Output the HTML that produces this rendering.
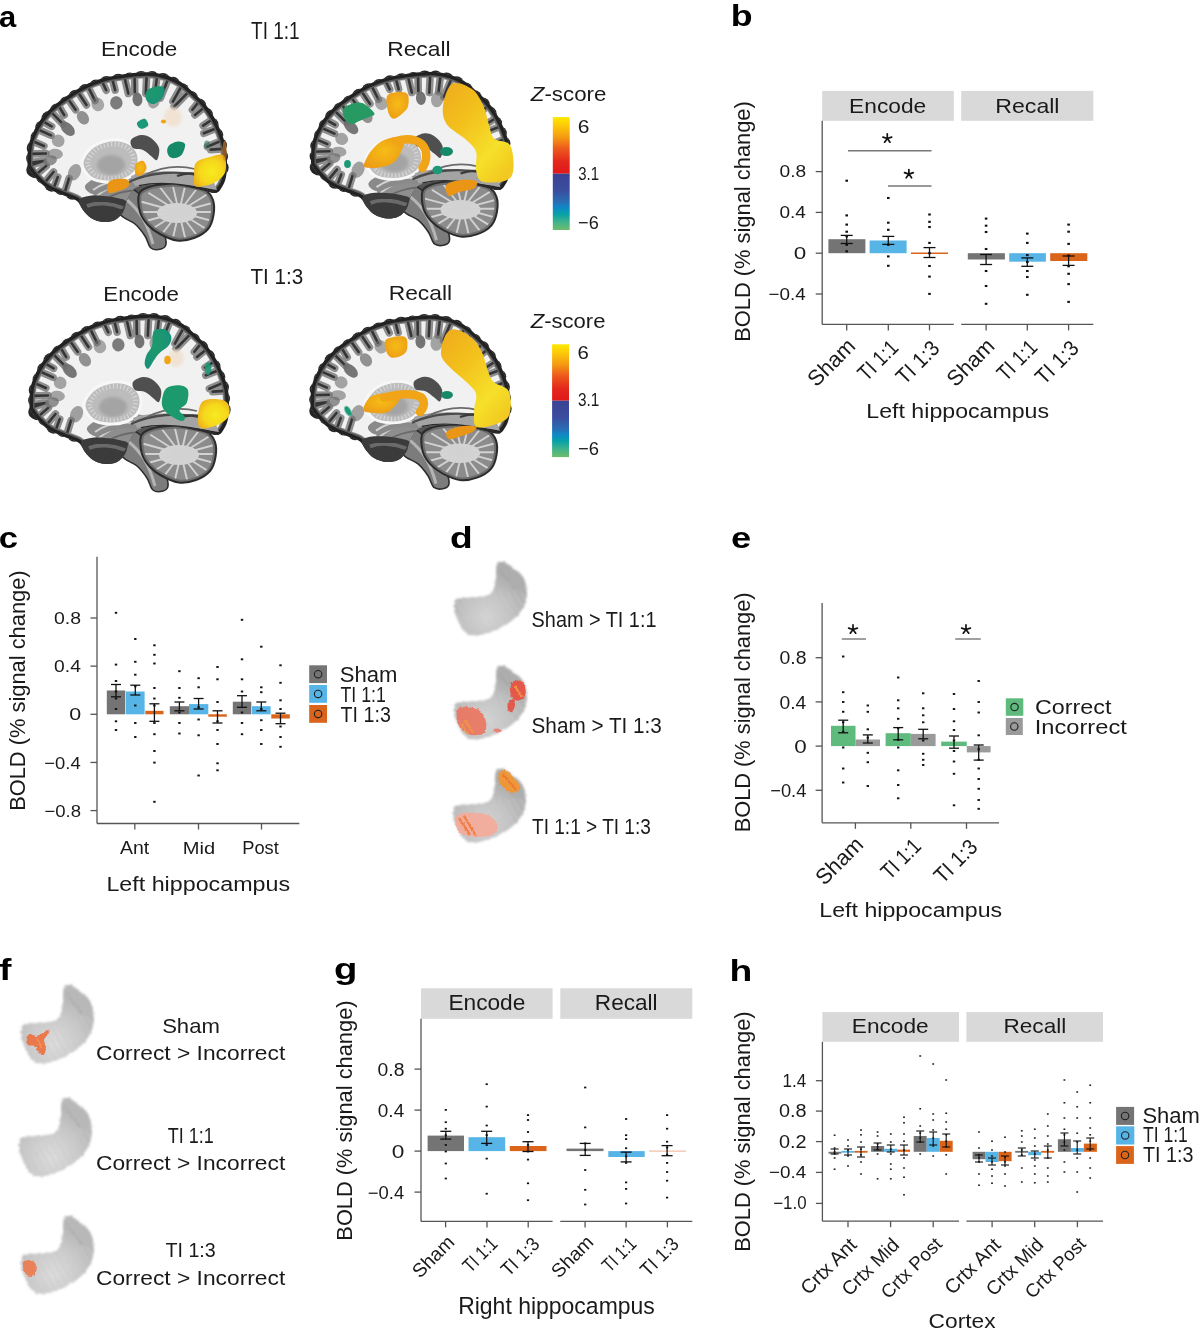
<!DOCTYPE html><html><head><meta charset="utf-8"><style>html,body{margin:0;padding:0;background:#fff}svg{display:block} text{opacity:0.999}</style></head><body>
<svg width="1200" height="1335" viewBox="0 0 1200 1335" font-family="Liberation Sans, sans-serif" fill="#1a1a1a">
<rect width="1200" height="1335" fill="#fff"/>
<text x="-1" y="26.6" font-size="30.38" font-weight="bold" textLength="17.18" lengthAdjust="spacingAndGlyphs" fill="#000" >a</text>
<defs>
<clipPath id="cc"><path d="M0.5,92 C0.42,88.17 0.58,79.17 1.5,74 C2.42,68.83 4.08,65.25 6,61 C7.92,56.75 10,52.67 13,48.5 C16,44.33 19.67,40 24,36 C28.33,32 33.5,28.25 39,24.5 C44.5,20.75 50.92,16.53 57,13.5 C63.08,10.47 69.33,8.1 75.5,6.3 C81.67,4.5 88.25,3.62 94,2.7 C99.75,1.78 104.83,1.17 110,0.8 C115.17,0.43 120,0.03 125,0.5 C130,0.97 135.17,2.02 140,3.6 C144.83,5.18 149.5,7.1 154,10 C158.5,12.9 163,17.33 167,21 C171,24.67 174.67,28 178,32 C181.33,36 184.25,40.17 187,45 C189.75,49.83 192.5,55.83 194.5,61 C196.5,66.17 198.08,71 199,76 C199.92,81 200,86.17 200,91 C200,95.83 199.83,101 199,105 C198.17,109 196.83,112.33 195,115 C193.17,117.67 192.17,120.67 188,121 C183.83,121.33 176.33,118.33 170,117 C163.67,115.67 156.67,113.83 150,113 C143.33,112.17 136,111.83 130,112 C124,112.17 118,113 114,114 C110,115 108.33,115.67 106,118 C103.67,120.33 101.67,124.33 100,128 C98.33,131.67 98,136.67 96,140 C94,143.33 91.33,146.33 88,148 C84.67,149.67 80,150.33 76,150 C72,149.67 67.33,148 64,146 C60.67,144 58.33,140.83 56,138 C53.67,135.17 53,131.33 50,129 C47,126.67 43,126.17 38,124 C33,121.83 25,119.17 20,116 C15,112.83 11,108.17 8,105 C5,101.83 3.25,99.17 2,97 C0.75,94.83 0.58,95.83 0.5,92Z"/></clipPath>
<clipPath id="cbc"><path d="M112,122 C113.5,117.83 117.33,116.67 122,115 C126.67,113.33 133.67,112.33 140,112 C146.33,111.67 153.67,112 160,113 C166.33,114 173.67,115.5 178,118 C182.33,120.5 184.58,123.83 186,128 C187.42,132.17 187.33,138.17 186.5,143 C185.67,147.83 184.25,153.17 181,157 C177.75,160.83 172.17,164.08 167,166 C161.83,167.92 155.67,169.17 150,168.5 C144.33,167.83 137.83,164.58 133,162 C128.17,159.42 124.33,156.67 121,153 C117.67,149.33 114.5,145.17 113,140 C111.5,134.83 110.5,126.17 112,122Z"/></clipPath>
<filter id="bl05" x="-5%" y="-5%" width="110%" height="110%"><feGaussianBlur stdDeviation="0.45"/></filter>
<filter id="bl1" x="-20%" y="-20%" width="140%" height="140%"><feGaussianBlur stdDeviation="0.7"/></filter>
<filter id="bl2" x="-30%" y="-30%" width="160%" height="160%"><feGaussianBlur stdDeviation="1.6"/></filter>
<filter id="bl3" x="-30%" y="-30%" width="160%" height="160%"><feGaussianBlur stdDeviation="2.5"/></filter>
<g id="brain">
<path d="M96,112 L150,108 L185,116 L150,132 L120,132 L100,128 Z" fill="#555"/>
<path d="M90,124 C92.67,120.83 100,117 104,117 C108,117 111.33,120.83 114,124 C116.67,127.17 117.67,131.67 120,136 C122.33,140.33 125.33,146 128,150 C130.67,154 134.17,156.33 136,160 C137.83,163.67 139.33,169.17 139,172 C138.67,174.83 136.5,176.33 134,177 C131.5,177.67 126.67,178.17 124,176 C121.33,173.83 120.67,168 118,164 C115.33,160 111.67,155.17 108,152 C104.33,148.83 99.33,147.67 96,145 C92.67,142.33 89,139.5 88,136 C87,132.5 87.33,127.17 90,124Z" fill="#7c7c7c" stroke="#2e2e2e" stroke-width="1.6"/>
<path d="M100,128 C112,138 120,150 126,172" fill="none" stroke="#b5b5b5" stroke-width="3"/>
<path d="M112,122 C113.5,117.83 117.33,116.67 122,115 C126.67,113.33 133.67,112.33 140,112 C146.33,111.67 153.67,112 160,113 C166.33,114 173.67,115.5 178,118 C182.33,120.5 184.58,123.83 186,128 C187.42,132.17 187.33,138.17 186.5,143 C185.67,147.83 184.25,153.17 181,157 C177.75,160.83 172.17,164.08 167,166 C161.83,167.92 155.67,169.17 150,168.5 C144.33,167.83 137.83,164.58 133,162 C128.17,159.42 124.33,156.67 121,153 C117.67,149.33 114.5,145.17 113,140 C111.5,134.83 110.5,126.17 112,122Z" fill="#8c8c8c"/>
<g clip-path="url(#cbc)">
<ellipse cx="150" cy="141" rx="20" ry="10" fill="#d4d4d4" filter="url(#bl1)"/>
<line x1="152" y1="140" x2="192" y2="140" stroke="#d2d2d2" stroke-width="1.9"/>
<line x1="152" y1="140" x2="189.59" y2="150.26" stroke="#d2d2d2" stroke-width="1.9"/>
<line x1="152" y1="140" x2="182.64" y2="159.28" stroke="#d2d2d2" stroke-width="1.9"/>
<line x1="152" y1="140" x2="172" y2="165.98" stroke="#d2d2d2" stroke-width="1.9"/>
<line x1="152" y1="140" x2="158.95" y2="169.54" stroke="#d2d2d2" stroke-width="1.9"/>
<line x1="152" y1="140" x2="145.05" y2="169.54" stroke="#d2d2d2" stroke-width="1.9"/>
<line x1="152" y1="140" x2="132" y2="165.98" stroke="#d2d2d2" stroke-width="1.9"/>
<line x1="152" y1="140" x2="121.36" y2="159.28" stroke="#d2d2d2" stroke-width="1.9"/>
<line x1="152" y1="140" x2="114.41" y2="150.26" stroke="#d2d2d2" stroke-width="1.9"/>
<line x1="152" y1="140" x2="112" y2="140" stroke="#d2d2d2" stroke-width="1.9"/>
<line x1="152" y1="140" x2="114.41" y2="129.74" stroke="#d2d2d2" stroke-width="1.9"/>
<line x1="152" y1="140" x2="121.36" y2="120.72" stroke="#d2d2d2" stroke-width="1.9"/>
<line x1="152" y1="140" x2="132" y2="114.02" stroke="#d2d2d2" stroke-width="1.9"/>
<line x1="152" y1="140" x2="145.05" y2="110.46" stroke="#d2d2d2" stroke-width="1.9"/>
<line x1="152" y1="140" x2="158.95" y2="110.46" stroke="#d2d2d2" stroke-width="1.9"/>
<line x1="152" y1="140" x2="172" y2="114.02" stroke="#d2d2d2" stroke-width="1.9"/>
<line x1="152" y1="140" x2="182.64" y2="120.72" stroke="#d2d2d2" stroke-width="1.9"/>
<line x1="152" y1="140" x2="189.59" y2="129.74" stroke="#d2d2d2" stroke-width="1.9"/>
<path d="M112,122 C113.5,117.83 117.33,116.67 122,115 C126.67,113.33 133.67,112.33 140,112 C146.33,111.67 153.67,112 160,113 C166.33,114 173.67,115.5 178,118 C182.33,120.5 184.58,123.83 186,128 C187.42,132.17 187.33,138.17 186.5,143 C185.67,147.83 184.25,153.17 181,157 C177.75,160.83 172.17,164.08 167,166 C161.83,167.92 155.67,169.17 150,168.5 C144.33,167.83 137.83,164.58 133,162 C128.17,159.42 124.33,156.67 121,153 C117.67,149.33 114.5,145.17 113,140 C111.5,134.83 110.5,126.17 112,122Z" fill="none" stroke="#6e6e6e" stroke-width="6"/>
</g>
<path d="M112,122 C113.5,117.83 117.33,116.67 122,115 C126.67,113.33 133.67,112.33 140,112 C146.33,111.67 153.67,112 160,113 C166.33,114 173.67,115.5 178,118 C182.33,120.5 184.58,123.83 186,128 C187.42,132.17 187.33,138.17 186.5,143 C185.67,147.83 184.25,153.17 181,157 C177.75,160.83 172.17,164.08 167,166 C161.83,167.92 155.67,169.17 150,168.5 C144.33,167.83 137.83,164.58 133,162 C128.17,159.42 124.33,156.67 121,153 C117.67,149.33 114.5,145.17 113,140 C111.5,134.83 110.5,126.17 112,122Z" fill="none" stroke="#2c2c2c" stroke-width="2"/>
<g fill="#262626" filter="url(#bl05)"><circle cx="6.6" cy="97.9" r="7.32"/><circle cx="6.38" cy="86.42" r="7.25"/><circle cx="6.69" cy="75.88" r="7"/><circle cx="10.49" cy="65.28" r="6.9"/><circle cx="15.25" cy="55.45" r="7"/><circle cx="21.92" cy="46.48" r="7.46"/><circle cx="29.89" cy="38.6" r="7.01"/><circle cx="39.19" cy="31.59" r="7.02"/><circle cx="48.81" cy="25.03" r="7.32"/><circle cx="58.5" cy="19.23" r="7.2"/><circle cx="68.91" cy="14.64" r="7.04"/><circle cx="79.65" cy="11.22" r="7.32"/><circle cx="91.29" cy="9.17" r="7.45"/><circle cx="102.76" cy="7.41" r="6.9"/><circle cx="114.22" cy="6.29" r="7.38"/><circle cx="125.07" cy="6.25" r="7.15"/><circle cx="135.9" cy="8.34" r="7.39"/><circle cx="146.04" cy="11.93" r="7.12"/><circle cx="155.13" cy="18.2" r="6.9"/><circle cx="163.91" cy="26.16" r="7.15"/><circle cx="171.96" cy="33.88" r="7.41"/><circle cx="178.8" cy="42.77" r="7.26"/><circle cx="184.42" cy="52.64" r="7.14"/><circle cx="189.05" cy="63.11" r="7.25"/><circle cx="192.68" cy="73.39" r="7.27"/><circle cx="193.99" cy="84.56" r="7.04"/><circle cx="194.31" cy="95.75" r="7.39"/><circle cx="45.36" cy="120.61" r="7.16"/><circle cx="34.27" cy="116.16" r="6.92"/><circle cx="24.58" cy="112.42" r="7.24"/><circle cx="16.14" cy="104.92" r="6.91"/><circle cx="8.15" cy="99" r="7.24"/></g>
<g clip-path="url(#cc)">
<path d="M0.5,92 C0.42,88.17 0.58,79.17 1.5,74 C2.42,68.83 4.08,65.25 6,61 C7.92,56.75 10,52.67 13,48.5 C16,44.33 19.67,40 24,36 C28.33,32 33.5,28.25 39,24.5 C44.5,20.75 50.92,16.53 57,13.5 C63.08,10.47 69.33,8.1 75.5,6.3 C81.67,4.5 88.25,3.62 94,2.7 C99.75,1.78 104.83,1.17 110,0.8 C115.17,0.43 120,0.03 125,0.5 C130,0.97 135.17,2.02 140,3.6 C144.83,5.18 149.5,7.1 154,10 C158.5,12.9 163,17.33 167,21 C171,24.67 174.67,28 178,32 C181.33,36 184.25,40.17 187,45 C189.75,49.83 192.5,55.83 194.5,61 C196.5,66.17 198.08,71 199,76 C199.92,81 200,86.17 200,91 C200,95.83 199.83,101 199,105 C198.17,109 196.83,112.33 195,115 C193.17,117.67 192.17,120.67 188,121 C183.83,121.33 176.33,118.33 170,117 C163.67,115.67 156.67,113.83 150,113 C143.33,112.17 136,111.83 130,112 C124,112.17 118,113 114,114 C110,115 108.33,115.67 106,118 C103.67,120.33 101.67,124.33 100,128 C98.33,131.67 98,136.67 96,140 C94,143.33 91.33,146.33 88,148 C84.67,149.67 80,150.33 76,150 C72,149.67 67.33,148 64,146 C60.67,144 58.33,140.83 56,138 C53.67,135.17 53,131.33 50,129 C47,126.67 43,126.17 38,124 C33,121.83 25,119.17 20,116 C15,112.83 11,108.17 8,105 C5,101.83 3.25,99.17 2,97 C0.75,94.83 0.58,95.83 0.5,92Z" fill="#f1f1f1"/>
<g filter="url(#bl05)">
<path d="M0.5,92 C0.42,88.17 0.58,79.17 1.5,74 C2.42,68.83 4.08,65.25 6,61 C7.92,56.75 10,52.67 13,48.5 C16,44.33 19.67,40 24,36 C28.33,32 33.5,28.25 39,24.5 C44.5,20.75 50.92,16.53 57,13.5 C63.08,10.47 69.33,8.1 75.5,6.3 C81.67,4.5 88.25,3.62 94,2.7 C99.75,1.78 104.83,1.17 110,0.8 C115.17,0.43 120,0.03 125,0.5 C130,0.97 135.17,2.02 140,3.6 C144.83,5.18 149.5,7.1 154,10 C158.5,12.9 163,17.33 167,21 C171,24.67 174.67,28 178,32 C181.33,36 184.25,40.17 187,45 C189.75,49.83 192.5,55.83 194.5,61 C196.5,66.17 198.08,71 199,76 C199.92,81 200,86.17 200,91 C200,95.83 199.83,101 199,105 C198.17,109 196.83,112.33 195,115 C193.17,117.67 192.17,120.67 188,121 C183.83,121.33 176.33,118.33 170,117 C163.67,115.67 156.67,113.83 150,113 C143.33,112.17 136,111.83 130,112 C124,112.17 118,113 114,114 C110,115 108.33,115.67 106,118 C103.67,120.33 101.67,124.33 100,128 C98.33,131.67 98,136.67 96,140 C94,143.33 91.33,146.33 88,148 C84.67,149.67 80,150.33 76,150 C72,149.67 67.33,148 64,146 C60.67,144 58.33,140.83 56,138 C53.67,135.17 53,131.33 50,129 C47,126.67 43,126.17 38,124 C33,121.83 25,119.17 20,116 C15,112.83 11,108.17 8,105 C5,101.83 3.25,99.17 2,97 C0.75,94.83 0.58,95.83 0.5,92Z" fill="none" stroke="#8e8e8e" stroke-width="12"/>
<path d="M0.48,91.03L16.44,88.99 M0.69,81.89L19.01,81.44 M3.08,67.96L16.95,74.06 M8.24,56.29L24.07,63.35 M13.38,47.96L24.67,54.4 M22.03,37.88L35.76,51.93 M29.96,31L37.25,43.1 M39.18,24.37L48.6,37.86 M49.41,17.71L59.49,33.02 M59.84,12.11L67.97,28.61 M73.81,6.81L79.22,18.27 M84.58,4.23L88.14,18.12 M96.76,2.27L101.31,21.56 M107.51,1L107.81,20.19 M119.84,0.29L118.8,21.63 M130.39,1.2L128.06,20.65 M142.18,4.32L133.39,26.12 M156.02,11.34L145.88,29.52 M163.55,17.8L147.13,34.65 M173.8,27.39L165.35,37.8 M179.37,33.67L167.96,42.93 M187.56,45.97L176.06,53.57 M192.1,55.22L176.79,61.27 M196.87,67.64L180.33,74.73 M199.15,76.64L183.66,77.64 M200,91.82L185.3,93.02 M199.28,103.47L183.11,100.62 M36.8,123.49L42.08,106.25 M25.67,118.96L30.79,105.01 M15.88,112.92L26.51,99.95 M7.28,104.23L19.24,93.86 M0.56,94.3L14.84,89.59" fill="none" stroke="#8e8e8e" stroke-width="7.5" stroke-linecap="round"/>
<path d="M0.48,91.03L16.44,88.99 M0.69,81.89L19.01,81.44 M3.08,67.96L16.95,74.06 M8.24,56.29L24.07,63.35 M13.38,47.96L24.67,54.4 M22.03,37.88L35.76,51.93 M29.96,31L37.25,43.1 M39.18,24.37L48.6,37.86 M49.41,17.71L59.49,33.02 M59.84,12.11L67.97,28.61 M73.81,6.81L79.22,18.27 M84.58,4.23L88.14,18.12 M96.76,2.27L101.31,21.56 M107.51,1L107.81,20.19 M119.84,0.29L118.8,21.63 M130.39,1.2L128.06,20.65 M142.18,4.32L133.39,26.12 M156.02,11.34L145.88,29.52 M163.55,17.8L147.13,34.65 M173.8,27.39L165.35,37.8 M179.37,33.67L167.96,42.93 M187.56,45.97L176.06,53.57 M192.1,55.22L176.79,61.27 M196.87,67.64L180.33,74.73 M199.15,76.64L183.66,77.64 M200,91.82L185.3,93.02 M199.28,103.47L183.11,100.62 M36.8,123.49L42.08,106.25 M25.67,118.96L30.79,105.01 M15.88,112.92L26.51,99.95 M7.28,104.23L19.24,93.86 M0.56,94.3L14.84,89.59" fill="none" stroke="#353535" stroke-width="2.6" stroke-linecap="round"/>
<path d="M0.5,92 C0.42,88.17 0.58,79.17 1.5,74 C2.42,68.83 4.08,65.25 6,61 C7.92,56.75 10,52.67 13,48.5 C16,44.33 19.67,40 24,36 C28.33,32 33.5,28.25 39,24.5 C44.5,20.75 50.92,16.53 57,13.5 C63.08,10.47 69.33,8.1 75.5,6.3 C81.67,4.5 88.25,3.62 94,2.7 C99.75,1.78 104.83,1.17 110,0.8 C115.17,0.43 120,0.03 125,0.5 C130,0.97 135.17,2.02 140,3.6 C144.83,5.18 149.5,7.1 154,10 C158.5,12.9 163,17.33 167,21 C171,24.67 174.67,28 178,32 C181.33,36 184.25,40.17 187,45 C189.75,49.83 192.5,55.83 194.5,61 C196.5,66.17 198.08,71 199,76 C199.92,81 200,86.17 200,91 C200,95.83 199.83,101 199,105 C198.17,109 196.83,112.33 195,115 C193.17,117.67 192.17,120.67 188,121 C183.83,121.33 176.33,118.33 170,117 C163.67,115.67 156.67,113.83 150,113 C143.33,112.17 136,111.83 130,112 C124,112.17 118,113 114,114 C110,115 108.33,115.67 106,118 C103.67,120.33 101.67,124.33 100,128 C98.33,131.67 98,136.67 96,140 C94,143.33 91.33,146.33 88,148 C84.67,149.67 80,150.33 76,150 C72,149.67 67.33,148 64,146 C60.67,144 58.33,140.83 56,138 C53.67,135.17 53,131.33 50,129 C47,126.67 43,126.17 38,124 C33,121.83 25,119.17 20,116 C15,112.83 11,108.17 8,105 C5,101.83 3.25,99.17 2,97 C0.75,94.83 0.58,95.83 0.5,92Z" fill="none" stroke="#5a5a5a" stroke-width="10"/>
<path d="M0.5,92 C0.42,88.17 0.58,79.17 1.5,74 C2.42,68.83 4.08,65.25 6,61 C7.92,56.75 10,52.67 13,48.5 C16,44.33 19.67,40 24,36 C28.33,32 33.5,28.25 39,24.5 C44.5,20.75 50.92,16.53 57,13.5 C63.08,10.47 69.33,8.1 75.5,6.3 C81.67,4.5 88.25,3.62 94,2.7 C99.75,1.78 104.83,1.17 110,0.8 C115.17,0.43 120,0.03 125,0.5 C130,0.97 135.17,2.02 140,3.6 C144.83,5.18 149.5,7.1 154,10 C158.5,12.9 163,17.33 167,21 C171,24.67 174.67,28 178,32 C181.33,36 184.25,40.17 187,45 C189.75,49.83 192.5,55.83 194.5,61 C196.5,66.17 198.08,71 199,76 C199.92,81 200,86.17 200,91 C200,95.83 199.83,101 199,105 C198.17,109 196.83,112.33 195,115 C193.17,117.67 192.17,120.67 188,121 C183.83,121.33 176.33,118.33 170,117 C163.67,115.67 156.67,113.83 150,113 C143.33,112.17 136,111.83 130,112 C124,112.17 118,113 114,114 C110,115 108.33,115.67 106,118 C103.67,120.33 101.67,124.33 100,128 C98.33,131.67 98,136.67 96,140 C94,143.33 91.33,146.33 88,148 C84.67,149.67 80,150.33 76,150 C72,149.67 67.33,148 64,146 C60.67,144 58.33,140.83 56,138 C53.67,135.17 53,131.33 50,129 C47,126.67 43,126.17 38,124 C33,121.83 25,119.17 20,116 C15,112.83 11,108.17 8,105 C5,101.83 3.25,99.17 2,97 C0.75,94.83 0.58,95.83 0.5,92Z" fill="none" stroke="#232323" stroke-width="7"/>
</g>
<g fill="#6e6e6e" filter="url(#bl1)"><ellipse cx="28.26" cy="81.98" rx="7.67" ry="5.25" transform="rotate(4.11 28.26 81.98)" opacity="0.6"/><ellipse cx="31.16" cy="68.81" rx="6.5" ry="6.12" transform="rotate(26.31 31.16 68.81)" opacity="0.6"/><ellipse cx="40.63" cy="56.7" rx="8.73" ry="5.32" transform="rotate(44.99 40.63 56.7)" opacity="0.94"/><ellipse cx="55.95" cy="45.74" rx="7.29" ry="5.57" transform="rotate(56.07 55.95 45.74)" opacity="0.74"/><ellipse cx="70.79" cy="32.48" rx="6.95" ry="6.24" transform="rotate(66.52 70.79 32.48)" opacity="0.57"/><ellipse cx="89.31" cy="30.8" rx="6.59" ry="6.22" transform="rotate(79.68 89.31 30.8)" opacity="0.89"/><ellipse cx="110.44" cy="27.29" rx="6.9" ry="4.97" transform="rotate(85.23 110.44 27.29)" opacity="0.95"/><ellipse cx="126.8" cy="28.21" rx="8.33" ry="6.23" transform="rotate(101.31 126.8 28.21)" opacity="0.6"/><ellipse cx="47.54" cy="100.19" rx="8.59" ry="6.21" transform="rotate(-66.93 47.54 100.19)" opacity="0.62"/><ellipse cx="23.04" cy="88.5" rx="7.07" ry="4.98" transform="rotate(-15.96 23.04 88.5)" opacity="0.74"/></g>
<path d="M66,120 C72,108 92,100 112,101 C124,103 130,112 126,122 C118,132 100,138 84,136 C74,134 66,128 66,120 Z" fill="#8e8e8e" filter="url(#bl1)"/>
<path d="M70,124 C84,112 104,106 124,110" fill="none" stroke="#cfcfcf" stroke-width="2.2"/>
<path d="M74,130 C88,120 106,116 122,120" fill="none" stroke="#6a6a6a" stroke-width="2"/>
<path d="M52,128 C53.17,125.5 58,124.67 62,124 C66,123.33 71.33,123.67 76,124 C80.67,124.33 86,125 90,126 C94,127 98.33,127.33 100,130 C101.67,132.67 101.33,138.67 100,142 C98.67,145.33 95.67,148.33 92,150 C88.33,151.67 82.67,152.33 78,152 C73.33,151.67 67.83,150.17 64,148 C60.17,145.83 57,142.33 55,139 C53,135.67 50.83,130.5 52,128Z" fill="#3a3a3a" filter="url(#bl1)"/>
<path d="M60,134 C70,130 84,131 96,136" fill="none" stroke="#6a6a6a" stroke-width="4" filter="url(#bl1)"/>
<path d="M58,114 C59,111 66.67,106.5 72,104 C77.33,101.5 84,99.67 90,99 C96,98.33 102.67,98.83 108,100 C113.33,101.17 119,103.67 122,106 C125,108.33 127.67,112.33 126,114 C124.33,115.67 117,116 112,116 C107,116 101,113.83 96,114 C91,114.17 87,115.67 82,117 C77,118.33 70,122.5 66,122 C62,121.5 57,117 58,114Z" fill="#8a8a8a"/>
<path d="M66,118 C80,108 98,106 118,112" fill="none" stroke="#d2d2d2" stroke-width="2"/>
<path d="M55,92 C54.67,87.33 58.67,81.67 62,78 C65.33,74.33 70,71.67 75,70 C80,68.33 86.83,67.33 92,68 C97.17,68.67 102.67,71 106,74 C109.33,77 111.67,81.67 112,86 C112.33,90.33 110.67,96.33 108,100 C105.33,103.67 100.67,106.33 96,108 C91.33,109.67 85.33,110.33 80,110 C74.67,109.67 68.17,109 64,106 C59.83,103 55.33,96.67 55,92Z" fill="#bcbcbc" stroke="#f7f7f7" stroke-width="3"/>
<path d="M55,92 C54.67,87.33 58.67,81.67 62,78 C65.33,74.33 70,71.67 75,70 C80,68.33 86.83,67.33 92,68 C97.17,68.67 102.67,71 106,74 C109.33,77 111.67,81.67 112,86 C112.33,90.33 110.67,96.33 108,100 C105.33,103.67 100.67,106.33 96,108 C91.33,109.67 85.33,110.33 80,110 C74.67,109.67 68.17,109 64,106 C59.83,103 55.33,96.67 55,92Z" fill="none" stroke="#d6d6d6" stroke-width="6" stroke-dasharray="1.5 3" transform="translate(84 89) scale(0.8) translate(-84 -89)"/>
<ellipse cx="84" cy="93" rx="14" ry="10" fill="#a4a4a4" filter="url(#bl2)"/>
<path d="M104,104 C120,98 150,97 186,108 L190,118 C160,112 130,110 108,114 Z" fill="#a4a4a4" filter="url(#bl1)"/>
<path d="M102,110 C122,100 150,98 176,104" fill="none" stroke="#4a4a4a" stroke-width="2.4"/>
<path d="M118,103 C134,95 152,93 168,97" fill="none" stroke="#6a6a6a" stroke-width="1.8"/>
<path d="M150,104 C160,100 172,101 182,106" fill="none" stroke="#3a3a3a" stroke-width="2.2"/>
<path d="M104,68 C105.33,65.83 110.67,63.33 114,63 C117.33,62.67 121,63.83 124,66 C127,68.17 131,72.33 132,76 C133,79.67 131.33,86.67 130,88 C128.67,89.33 126.33,85.67 124,84 C121.67,82.33 119,79.33 116,78 C113,76.67 108,77.67 106,76 C104,74.33 102.67,70.17 104,68Z" fill="#505050" filter="url(#bl1)"/>
<path d="M112,114 C130,110 160,111 190,121" fill="none" stroke="#2c2c2c" stroke-width="2.2"/>
</g>
</g>
</defs>
<defs><radialGradient id="gy" cx="0.55" cy="0.55" r="0.6"><stop offset="0" stop-color="#f7ea20"/><stop offset="0.6" stop-color="#f5d81e"/><stop offset="1" stop-color="#efb21a"/></radialGradient><radialGradient id="go" cx="0.5" cy="0.45" r="0.65"><stop offset="0" stop-color="#f6bc16"/><stop offset="1" stop-color="#ec9a16"/></radialGradient><linearGradient id="gr" x1="0" y1="0" x2="0.8" y2="1"><stop offset="0" stop-color="#efaa1a"/><stop offset="0.4" stop-color="#f3c21e"/><stop offset="0.75" stop-color="#f6e02a"/><stop offset="1" stop-color="#f2c820"/></linearGradient><radialGradient id="gg" cx="0.4" cy="0.4" r="0.7"><stop offset="0" stop-color="#1f9a6a"/><stop offset="1" stop-color="#17907a"/></radialGradient></defs>
<use href="#brain" transform="translate(27 72) scale(1.0 1.0)"/>
<path d="M146.5,91.2 C148.03,88.92 152.8,87.22 155.7,86.6 C158.6,85.98 162.68,85.82 163.9,87.5 C165.12,89.18 164.68,93.95 163,96.7 C161.32,99.45 156.55,103.4 153.8,104 C151.05,104.6 147.72,102.43 146.5,100.3 C145.28,98.17 144.97,93.48 146.5,91.2Z" fill="url(#gg)" opacity="1.0" filter="url(#bl1)"/>
<path d="M137.3,122.3 C138.37,120.93 142.87,118.23 144.7,118.7 C146.53,119.17 148.62,123.42 148.3,125.1 C147.98,126.78 144.47,128.5 142.8,128.8 C141.13,129.1 139.22,127.98 138.3,126.9 C137.38,125.82 136.23,123.67 137.3,122.3Z" fill="#1e9a78" opacity="1.0" filter="url(#bl1)"/>
<path d="M168.5,146.2 C170.18,144.22 174.95,141.92 177.7,141.6 C180.45,141.28 184.4,142.02 185,144.3 C185.6,146.58 183.43,153 181.3,155.3 C179.17,157.6 174.48,158.4 172.2,158.1 C169.92,157.8 168.22,155.48 167.6,153.5 C166.98,151.52 166.82,148.18 168.5,146.2Z" fill="#168a68" opacity="1.0" filter="url(#bl1)"/>
<ellipse cx="207" cy="144.5" rx="3" ry="4" fill="#2a6a50" opacity="0.55" filter="url(#bl1)"/>
<ellipse cx="173" cy="117" rx="9" ry="10" fill="#f0e0cc" opacity="0.8" filter="url(#bl2)"/>
<ellipse cx="163.5" cy="121.5" rx="2.6" ry="2" fill="#f0a418" opacity="1.0" filter="url(#bl1)"/>
<path d="M196,162.7 C198.43,159.65 204.22,158.43 208.8,157.2 C213.38,155.97 220.75,152.87 223.5,155.3 C226.25,157.73 226.83,167.22 225.3,171.8 C223.77,176.38 219.18,180.35 214.3,182.8 C209.42,185.25 199.35,187.72 196,186.5 C192.65,185.28 194.2,179.47 194.2,175.5 C194.2,171.53 193.57,165.75 196,162.7Z" fill="url(#gy)" opacity="1.0" filter="url(#bl1)"/>
<path d="M135.5,164.5 C136.72,162.35 140.97,160.18 142.8,160.8 C144.63,161.42 146.8,165.75 146.5,168.2 C146.2,170.65 142.83,174.58 141,175.5 C139.17,176.42 136.42,175.53 135.5,173.7 C134.58,171.87 134.28,166.65 135.5,164.5Z" fill="url(#go)" opacity="1.0" filter="url(#bl1)"/>
<path d="M109.8,181 C112.85,178.87 123.23,178.28 126.3,179.2 C129.37,180.12 130.03,184.37 128.2,186.5 C126.37,188.63 118.67,191.08 115.3,192 C111.93,192.92 108.92,193.83 108,192 C107.08,190.17 106.75,183.13 109.8,181Z" fill="#eb9515" opacity="1.0" filter="url(#bl1)"/>
<ellipse cx="224.5" cy="151" rx="2.2" ry="10" fill="#d87a1a" opacity="0.6" filter="url(#bl1)"/>
<use href="#brain" transform="translate(310.5 71.5) scale(1.0 0.98)"/>
<path d="M343.1,109.5 C344.17,107.05 348.1,105.07 351.3,104 C354.5,102.93 358.47,101.57 362.3,103.1 C366.13,104.63 373.07,110.92 374.3,113.2 C375.53,115.48 372,115.58 369.7,116.8 C367.4,118.02 363.57,119.27 360.5,120.5 C357.43,121.73 353.9,124.5 351.3,124.2 C348.7,123.9 346.27,121.15 344.9,118.7 C343.53,116.25 342.03,111.95 343.1,109.5Z" fill="#259a62" opacity="1.0" filter="url(#bl1)"/>
<ellipse cx="347.5" cy="164" rx="3.4" ry="4" fill="#1e9a78" opacity="1.0" filter="url(#bl1)"/>
<path d="M388,94.8 C391.05,91.75 402.93,91.17 406.3,93 C409.67,94.83 408.8,102.43 408.2,105.8 C407.6,109.17 405.15,111.05 402.7,113.2 C400.25,115.35 395.95,119.02 393.5,118.7 C391.05,118.38 388.92,115.28 388,111.3 C387.08,107.32 384.95,97.85 388,94.8Z" fill="url(#go)" opacity="1.0" filter="url(#bl1)"/>
<path d="M452.2,83.8 C457.08,81.05 467.12,85.63 472.3,89.3 C477.48,92.97 480.55,99.98 483.3,105.8 C486.05,111.62 486.97,118.7 488.8,124.2 C490.63,129.7 490.63,135.13 494.3,138.8 C497.97,142.47 508.05,139.78 510.8,146.2 C513.55,152.62 515.38,171.35 510.8,177.3 C506.22,183.25 489.1,183.12 483.3,181.9 C477.5,180.68 477.22,175.03 476,170 C474.78,164.97 477.83,156.9 476,151.7 C474.17,146.5 469.88,143.38 465,138.8 C460.12,134.22 450.37,129.7 446.7,124.2 C443.03,118.7 442.08,112.53 443,105.8 C443.92,99.07 447.32,86.55 452.2,83.8Z" fill="url(#gr)" opacity="1.0" filter="url(#bl1)"/>
<path d="M364,164 C364.83,161.25 368,154.83 371,151 C374,147.17 377.83,143.33 382,141 C386.17,138.67 392.33,137 396,137 C399.67,137 403.17,138.5 404,141 C404.83,143.5 402.83,148.33 401,152 C399.17,155.67 396.67,160.42 393,163 C389.33,165.58 383.5,166.75 379,167.5 C374.5,168.25 368.5,168.08 366,167.5 C363.5,166.92 363.17,166.75 364,164Z" fill="url(#go)" opacity="1.0" filter="url(#bl1)"/>
<path d="M396,141 C410,137 422,140 425.5,150 C427.5,158 425,164 422.5,168" fill="none" stroke="#f0a416" stroke-width="8.5" stroke-linecap="round" filter="url(#bl1)"/>
<path d="M446.7,184.7 C448.83,182.1 456.42,180.72 461.3,180.1 C466.18,179.48 473.85,179.63 476,181 C478.15,182.37 476.95,186.47 474.2,188.3 C471.45,190.13 463.78,190.77 459.5,192 C455.22,193.23 450.63,196.92 448.5,195.7 C446.37,194.48 444.57,187.3 446.7,184.7Z" fill="#eb9515" opacity="1.0" filter="url(#bl1)"/>
<ellipse cx="446.5" cy="151.5" rx="6.5" ry="4.5" fill="#168a68" opacity="1.0" filter="url(#bl1)"/>
<ellipse cx="437.5" cy="170" rx="5" ry="4.2" fill="#1e9a78" opacity="1.0" filter="url(#bl1)"/>
<defs><linearGradient id="cb1a" x1="0" y1="0" x2="0" y2="1"><stop offset="0" stop-color="#ffe800"/><stop offset="0.12" stop-color="#fdd006"/><stop offset="0.35" stop-color="#f59c12"/><stop offset="0.55" stop-color="#ee5c1c"/><stop offset="0.78" stop-color="#e4281c"/><stop offset="1" stop-color="#e01818"/></linearGradient><linearGradient id="cb1b" x1="0" y1="0" x2="0" y2="1"><stop offset="0" stop-color="#3b4294"/><stop offset="0.3" stop-color="#3a4e9e"/><stop offset="0.5" stop-color="#2a6db4"/><stop offset="0.6" stop-color="#0e88c6"/><stop offset="0.72" stop-color="#07a2a8"/><stop offset="0.86" stop-color="#40b38a"/><stop offset="1" stop-color="#6dbd6b"/></linearGradient></defs>
<rect x="552.8" y="117.1" width="16.9" height="56.6" fill="url(#cb1a)"/>
<rect x="552.8" y="173.7" width="16.9" height="56.3" fill="url(#cb1b)"/>
<use href="#brain" transform="translate(29 314) scale(1.0 1.0)"/>
<path d="M153.8,331.2 C155.93,328.45 161.88,328.38 164.8,329.3 C167.72,330.22 170.68,333.95 171.3,336.7 C171.92,339.45 170.5,343.05 168.5,345.8 C166.5,348.55 161.75,350.75 159.3,353.2 C156.85,355.65 155.63,357.9 153.8,360.5 C151.97,363.1 149.82,368.18 148.3,368.8 C146.78,369.42 145,366.5 144.7,364.2 C144.4,361.9 145.28,358.07 146.5,355 C147.72,351.93 150.78,349.77 152,345.8 C153.22,341.83 151.67,333.95 153.8,331.2Z" fill="url(#gg)" opacity="1.0" filter="url(#bl1)"/>
<ellipse cx="176" cy="358" rx="8" ry="9" fill="#f0e0cc" opacity="0.8" filter="url(#bl2)"/>
<ellipse cx="167.5" cy="360" rx="3.3" ry="4.3" fill="#f0a418" opacity="1.0" filter="url(#bl1)"/>
<ellipse cx="208" cy="368.5" rx="3.2" ry="6.5" fill="#1e9a78" opacity="0.9" filter="url(#bl1)"/>
<path d="M166.7,388 C169.6,385.72 175.98,385 179.5,385.3 C183.02,385.6 186.58,386.9 187.8,389.8 C189.02,392.7 188.18,399.33 186.8,402.7 C185.42,406.07 179.8,407.57 179.5,410 C179.2,412.43 184.7,415.47 185,417.3 C185.3,419.13 183.75,421.3 181.3,421 C178.85,420.7 173.35,417.63 170.3,415.5 C167.25,413.37 164.37,410.95 163,408.2 C161.63,405.45 161.48,402.37 162.1,399 C162.72,395.63 163.8,390.28 166.7,388Z" fill="#1f9a6e" opacity="1.0" filter="url(#bl1)"/>
<path d="M201.5,402.7 C204.25,399.33 210.02,399 214.3,399 C218.58,399 224.75,399.95 227.2,402.7 C229.65,405.45 230.53,411.83 229,415.5 C227.47,419.17 222.58,422.57 218,424.7 C213.42,426.83 204.87,429.22 201.5,428.3 C198.13,427.38 197.8,423.47 197.8,419.2 C197.8,414.93 198.75,406.07 201.5,402.7Z" fill="url(#gy)" opacity="1.0" filter="url(#bl1)"/>
<use href="#brain" transform="translate(310 315) scale(1.0 0.98)"/>
<path d="M386.2,339.4 C389.25,336.97 400.98,335.32 404.5,336.7 C408.02,338.08 407.6,344.65 407.3,347.7 C407,350.75 405.3,353.33 402.7,355 C400.1,356.67 394.45,358.32 391.7,357.7 C388.95,357.08 387.12,354.35 386.2,351.3 C385.28,348.25 383.15,341.83 386.2,339.4Z" fill="url(#go)" opacity="1.0" filter="url(#bl1)"/>
<path d="M454,329.3 C458.28,329.3 465.92,333.03 470.5,336.7 C475.08,340.37 478.45,345.2 481.5,351.3 C484.55,357.4 486.67,368.1 488.8,373.3 C490.93,378.5 490.93,379.43 494.3,382.5 C497.67,385.57 506.55,386.2 509,391.7 C511.45,397.2 511.45,410 509,415.5 C506.55,421 499.8,422.87 494.3,424.7 C488.8,426.53 479.35,428.95 476,426.5 C472.65,424.05 474.2,415.5 474.2,410 C474.2,404.5 477.53,398.38 476,393.5 C474.47,388.62 469.28,384.98 465,380.7 C460.72,376.42 454.27,372.08 450.3,367.8 C446.33,363.52 442.12,360.18 441.2,355 C440.28,349.82 442.67,340.98 444.8,336.7 C446.93,332.42 449.72,329.3 454,329.3Z" fill="url(#gr)" opacity="1.0" filter="url(#bl1)"/>
<path d="M363.3,410 C362.7,407.42 366.5,400.25 369.7,397.5 C372.9,394.75 378.12,394.25 382.5,393.5 C386.88,392.75 393.25,391.92 396,393 C398.75,394.08 399.5,397.5 399,400 C398.5,402.5 395.17,405.87 393,408 C390.83,410.13 389.28,411.97 386,412.8 C382.72,413.63 377.08,413.47 373.3,413 C369.52,412.53 363.9,412.58 363.3,410Z" fill="url(#go)" opacity="1.0" filter="url(#bl1)"/>
<path d="M384,397.5 C400,393.5 414,393 421.5,397.5 C425.5,402 424,408 420,412" fill="none" stroke="#f0a416" stroke-width="8.5" stroke-linecap="round" filter="url(#bl1)"/>
<path d="M446.7,432 C448.38,429.87 454.62,427.42 459.5,426.5 C464.38,425.58 473.87,425.58 476,426.5 C478.13,427.42 475.05,430.32 472.3,432 C469.55,433.68 463.32,435.38 459.5,436.6 C455.68,437.82 451.53,440.07 449.4,439.3 C447.27,438.53 445.02,434.13 446.7,432Z" fill="#eb9515" opacity="1.0" filter="url(#bl1)"/>
<ellipse cx="348" cy="411" rx="2.8" ry="5.5" fill="#1e9a78" opacity="1" filter="url(#bl1)" transform="rotate(-30 348 411)"/>
<ellipse cx="447" cy="395" rx="6" ry="4" fill="#168a68" opacity="1.0" filter="url(#bl1)"/>
<defs><linearGradient id="cb2a" x1="0" y1="0" x2="0" y2="1"><stop offset="0" stop-color="#ffe800"/><stop offset="0.12" stop-color="#fdd006"/><stop offset="0.35" stop-color="#f59c12"/><stop offset="0.55" stop-color="#ee5c1c"/><stop offset="0.78" stop-color="#e4281c"/><stop offset="1" stop-color="#e01818"/></linearGradient><linearGradient id="cb2b" x1="0" y1="0" x2="0" y2="1"><stop offset="0" stop-color="#3b4294"/><stop offset="0.3" stop-color="#3a4e9e"/><stop offset="0.5" stop-color="#2a6db4"/><stop offset="0.6" stop-color="#0e88c6"/><stop offset="0.72" stop-color="#07a2a8"/><stop offset="0.86" stop-color="#40b38a"/><stop offset="1" stop-color="#6dbd6b"/></linearGradient></defs>
<rect x="552.1" y="344.3" width="16.9" height="56.4" fill="url(#cb2a)"/>
<rect x="552.1" y="400.7" width="16.9" height="56.4" fill="url(#cb2b)"/>
<text x="139.13" y="56.05" font-size="20.57" text-anchor="middle" textLength="76.23" lengthAdjust="spacingAndGlyphs" >Encode</text>
<text x="275.33" y="38.73" font-size="24.18" text-anchor="middle" textLength="48.6" lengthAdjust="spacingAndGlyphs" >TI 1:1</text>
<text x="418.88" y="55.8" font-size="20.02" text-anchor="middle" textLength="63.38" lengthAdjust="spacingAndGlyphs" >Recall</text>
<text x="568.6" y="101.12" font-size="21" text-anchor="middle" textLength="75.46" lengthAdjust="spacingAndGlyphs" ><tspan font-style="italic">Z</tspan>-score</text>
<text x="577.82" y="132.83" font-size="18.5" textLength="11.7" lengthAdjust="spacingAndGlyphs" >6</text>
<text x="578.17" y="179.8" font-size="17.77" textLength="20.79" lengthAdjust="spacingAndGlyphs" >3.1</text>
<text x="578.05" y="228.92" font-size="18.5" textLength="20.66" lengthAdjust="spacingAndGlyphs" >−6</text>
<text x="141.12" y="300.75" font-size="20.46" text-anchor="middle" textLength="75.64" lengthAdjust="spacingAndGlyphs" >Encode</text>
<text x="276.87" y="283.62" font-size="22" text-anchor="middle" textLength="52.81" lengthAdjust="spacingAndGlyphs" >TI 1:3</text>
<text x="420.37" y="300.3" font-size="20.02" text-anchor="middle" textLength="63.38" lengthAdjust="spacingAndGlyphs" >Recall</text>
<text x="568.12" y="327.88" font-size="20.14" text-anchor="middle" textLength="74.72" lengthAdjust="spacingAndGlyphs" ><tspan font-style="italic">Z</tspan>-score</text>
<text x="577.42" y="359.13" font-size="18.5" textLength="11.35" lengthAdjust="spacingAndGlyphs" >6</text>
<text x="577.92" y="405.77" font-size="17.43" textLength="21.33" lengthAdjust="spacingAndGlyphs" >3.1</text>
<text x="578.1" y="455.12" font-size="18.5" textLength="20.99" lengthAdjust="spacingAndGlyphs" >−6</text>
<text x="730.68" y="25.92" font-size="29" font-weight="bold" textLength="21.82" lengthAdjust="spacingAndGlyphs" fill="#000" >b</text>
<rect x="822.2" y="90.9" width="131.6" height="29.9" fill="#d9d9d9" />
<text x="887.68" y="113" font-size="21" text-anchor="middle" textLength="77.09" lengthAdjust="spacingAndGlyphs" >Encode</text>
<rect x="961.2" y="90.9" width="132.1" height="29.9" fill="#d9d9d9" />
<text x="1027.4" y="113" font-size="21" text-anchor="middle" textLength="64.22" lengthAdjust="spacingAndGlyphs" >Recall</text>
<line x1="822.2" y1="120.8" x2="822.2" y2="324.4" stroke="#555555" stroke-width="1.3"/>
<line x1="815.7" y1="171.6" x2="822.2" y2="171.6" stroke="#555555" stroke-width="1.3"/>
<text x="806.15" y="177.35" font-size="17.04" text-anchor="end" textLength="26.64" lengthAdjust="spacingAndGlyphs" >0.8</text>
<line x1="815.7" y1="212.4" x2="822.2" y2="212.4" stroke="#555555" stroke-width="1.3"/>
<text x="805.9" y="218.15" font-size="17.04" text-anchor="end" textLength="26.46" lengthAdjust="spacingAndGlyphs" >0.4</text>
<line x1="815.7" y1="253.2" x2="822.2" y2="253.2" stroke="#555555" stroke-width="1.3"/>
<text x="806.27" y="259.02" font-size="17.04" text-anchor="end" textLength="12.49" lengthAdjust="spacingAndGlyphs" >0</text>
<line x1="815.7" y1="294" x2="822.2" y2="294" stroke="#555555" stroke-width="1.3"/>
<text x="805.7" y="299.62" font-size="17.04" text-anchor="end" textLength="37.23" lengthAdjust="spacingAndGlyphs" >−0.4</text>
<line x1="822.2" y1="324.4" x2="953.8" y2="324.4" stroke="#555555" stroke-width="1.3"/>
<line x1="846.7" y1="324.4" x2="846.7" y2="330.4" stroke="#555555" stroke-width="1.3"/>
<line x1="888.3" y1="324.4" x2="888.3" y2="330.4" stroke="#555555" stroke-width="1.3"/>
<line x1="929.5" y1="324.4" x2="929.5" y2="330.4" stroke="#555555" stroke-width="1.3"/>
<line x1="961.2" y1="324.4" x2="1093.3" y2="324.4" stroke="#555555" stroke-width="1.3"/>
<line x1="986.1" y1="324.4" x2="986.1" y2="330.4" stroke="#555555" stroke-width="1.3"/>
<line x1="1027.3" y1="324.4" x2="1027.3" y2="330.4" stroke="#555555" stroke-width="1.3"/>
<line x1="1068.6" y1="324.4" x2="1068.6" y2="330.4" stroke="#555555" stroke-width="1.3"/>
<rect x="828.4" y="239.2" width="37" height="14" fill="#747474" />
<rect x="869.6" y="240.5" width="37" height="12.7" fill="#56b4e6" />
<line x1="911" y1="253.2" x2="948" y2="253.2" stroke="#d9641a" stroke-width="1.5"/>
<rect x="967.8" y="253.2" width="37.1" height="6.3" fill="#747474" />
<rect x="1009.2" y="253.2" width="36.7" height="8.5" fill="#56b4e6" />
<rect x="1050.2" y="253.2" width="37.1" height="7.8" fill="#d9641a" />
<rect x="845.4" y="179.66" width="2.6" height="2.08" fill="#111"/>
<rect x="845.4" y="214.36" width="2.6" height="2.08" fill="#111"/>
<rect x="845.4" y="223.56" width="2.6" height="2.08" fill="#111"/>
<rect x="845.4" y="230.66" width="2.6" height="2.08" fill="#111"/>
<rect x="845.4" y="235.36" width="2.6" height="2.08" fill="#111"/>
<rect x="845.4" y="243.76" width="2.6" height="2.08" fill="#111"/>
<rect x="845.4" y="250.26" width="2.6" height="2.08" fill="#111"/>
<line x1="846.7" y1="235.4" x2="846.7" y2="243.5" stroke="#111" stroke-width="1.3"/>
<line x1="840.7" y1="235.4" x2="852.7" y2="235.4" stroke="#111" stroke-width="1.3"/>
<line x1="840.7" y1="243.5" x2="852.7" y2="243.5" stroke="#111" stroke-width="1.3"/>
<rect x="887" y="196.96" width="2.6" height="2.08" fill="#111"/>
<rect x="887" y="221.66" width="2.6" height="2.08" fill="#111"/>
<rect x="887" y="228.76" width="2.6" height="2.08" fill="#111"/>
<rect x="887" y="243.76" width="2.6" height="2.08" fill="#111"/>
<rect x="887" y="255.36" width="2.6" height="2.08" fill="#111"/>
<rect x="887" y="264.76" width="2.6" height="2.08" fill="#111"/>
<line x1="888.3" y1="236.4" x2="888.3" y2="244.4" stroke="#111" stroke-width="1.3"/>
<line x1="882.3" y1="236.4" x2="894.3" y2="236.4" stroke="#111" stroke-width="1.3"/>
<line x1="882.3" y1="244.4" x2="894.3" y2="244.4" stroke="#111" stroke-width="1.3"/>
<rect x="928.2" y="213.46" width="2.6" height="2.08" fill="#111"/>
<rect x="928.2" y="220.76" width="2.6" height="2.08" fill="#111"/>
<rect x="928.2" y="225.96" width="2.6" height="2.08" fill="#111"/>
<rect x="928.2" y="241.86" width="2.6" height="2.08" fill="#111"/>
<rect x="928.2" y="252.16" width="2.6" height="2.08" fill="#111"/>
<rect x="928.2" y="264.96" width="2.6" height="2.08" fill="#111"/>
<rect x="928.2" y="275.56" width="2.6" height="2.08" fill="#111"/>
<rect x="928.2" y="292.86" width="2.6" height="2.08" fill="#111"/>
<line x1="929.5" y1="247.6" x2="929.5" y2="257.5" stroke="#111" stroke-width="1.3"/>
<line x1="923.5" y1="247.6" x2="935.5" y2="247.6" stroke="#111" stroke-width="1.3"/>
<line x1="923.5" y1="257.5" x2="935.5" y2="257.5" stroke="#111" stroke-width="1.3"/>
<rect x="984.8" y="217.56" width="2.6" height="2.08" fill="#111"/>
<rect x="984.8" y="224.66" width="2.6" height="2.08" fill="#111"/>
<rect x="984.8" y="230.96" width="2.6" height="2.08" fill="#111"/>
<rect x="984.8" y="247.96" width="2.6" height="2.08" fill="#111"/>
<rect x="984.8" y="269.96" width="2.6" height="2.08" fill="#111"/>
<rect x="984.8" y="284.96" width="2.6" height="2.08" fill="#111"/>
<rect x="984.8" y="302.76" width="2.6" height="2.08" fill="#111"/>
<line x1="986.1" y1="254.5" x2="986.1" y2="264.5" stroke="#111" stroke-width="1.3"/>
<line x1="980.1" y1="254.5" x2="992.1" y2="254.5" stroke="#111" stroke-width="1.3"/>
<line x1="980.1" y1="264.5" x2="992.1" y2="264.5" stroke="#111" stroke-width="1.3"/>
<rect x="1026" y="232.56" width="2.6" height="2.08" fill="#111"/>
<rect x="1026" y="241.86" width="2.6" height="2.08" fill="#111"/>
<rect x="1026" y="254.06" width="2.6" height="2.08" fill="#111"/>
<rect x="1026" y="260.96" width="2.6" height="2.08" fill="#111"/>
<rect x="1026" y="269.96" width="2.6" height="2.08" fill="#111"/>
<rect x="1026" y="275.96" width="2.6" height="2.08" fill="#111"/>
<rect x="1026" y="293.76" width="2.6" height="2.08" fill="#111"/>
<line x1="1027.3" y1="257.9" x2="1027.3" y2="266.3" stroke="#111" stroke-width="1.3"/>
<line x1="1021.3" y1="257.9" x2="1033.3" y2="257.9" stroke="#111" stroke-width="1.3"/>
<line x1="1021.3" y1="266.3" x2="1033.3" y2="266.3" stroke="#111" stroke-width="1.3"/>
<rect x="1067.3" y="223.56" width="2.6" height="2.08" fill="#111"/>
<rect x="1067.3" y="230.66" width="2.6" height="2.08" fill="#111"/>
<rect x="1067.3" y="242.86" width="2.6" height="2.08" fill="#111"/>
<rect x="1067.3" y="254.46" width="2.6" height="2.08" fill="#111"/>
<rect x="1067.3" y="265.26" width="2.6" height="2.08" fill="#111"/>
<rect x="1067.3" y="272.76" width="2.6" height="2.08" fill="#111"/>
<rect x="1067.3" y="283.06" width="2.6" height="2.08" fill="#111"/>
<rect x="1067.3" y="300.86" width="2.6" height="2.08" fill="#111"/>
<line x1="1068.6" y1="256" x2="1068.6" y2="265.4" stroke="#111" stroke-width="1.3"/>
<line x1="1062.6" y1="256" x2="1074.6" y2="256" stroke="#111" stroke-width="1.3"/>
<line x1="1062.6" y1="265.4" x2="1074.6" y2="265.4" stroke="#111" stroke-width="1.3"/>
<line x1="848" y1="150.8" x2="931.5" y2="150.8" stroke="#777" stroke-width="1.4"/>
<path d="M887.3,138.5L887.3,133.9M887.3,138.5L891.67,137.08M887.3,138.5L890,142.22M887.3,138.5L884.6,142.22M887.3,138.5L882.93,137.08" stroke="#111" stroke-width="1.7" stroke-linecap="round" fill="none"/>
<line x1="888" y1="186" x2="931.5" y2="186" stroke="#777" stroke-width="1.4"/>
<path d="M908.9,174.1L908.9,169.5M908.9,174.1L913.27,172.68M908.9,174.1L911.6,177.82M908.9,174.1L906.2,177.82M908.9,174.1L904.53,172.68" stroke="#111" stroke-width="1.7" stroke-linecap="round" fill="none"/>
<text x="749.65" y="221.5" font-size="21.84" text-anchor="middle" textLength="240.65" lengthAdjust="spacingAndGlyphs" transform="rotate(-90 749.65 221.5)" >BOLD (% signal change)</text>
<text x="856.75" y="347.45" font-size="21.86" text-anchor="end" transform="rotate(-45 856.75 347.45)" >Sham</text>
<text x="899.6" y="348.95" font-size="21.86" text-anchor="end" textLength="46.78" lengthAdjust="spacingAndGlyphs" transform="rotate(-45 899.6 348.95)" >TI 1:1</text>
<text x="940.8" y="349.7" font-size="21.86" text-anchor="end" textLength="50.8" lengthAdjust="spacingAndGlyphs" transform="rotate(-45 940.8 349.7)" >TI 1:3</text>
<text x="996" y="347.45" font-size="21.86" text-anchor="end" transform="rotate(-45 996 347.45)" >Sham</text>
<text x="1038.6" y="348.95" font-size="21.86" text-anchor="end" textLength="46.6" lengthAdjust="spacingAndGlyphs" transform="rotate(-45 1038.6 348.95)" >TI 1:1</text>
<text x="1080.05" y="349.7" font-size="21.86" text-anchor="end" textLength="50.95" lengthAdjust="spacingAndGlyphs" transform="rotate(-45 1080.05 349.7)" >TI 1:3</text>
<text x="957.7" y="417.88" font-size="21.06" text-anchor="middle" textLength="182.77" lengthAdjust="spacingAndGlyphs" >Left hippocampus</text>
<text x="-1.38" y="547.75" font-size="29" font-weight="bold" textLength="19.27" lengthAdjust="spacingAndGlyphs" fill="#000" >c</text>
<line x1="97" y1="556.8" x2="97" y2="823.5" stroke="#555555" stroke-width="1.3"/>
<line x1="90.5" y1="618" x2="97" y2="618" stroke="#555555" stroke-width="1.3"/>
<text x="81" y="623.97" font-size="17.26" text-anchor="end" textLength="27.06" lengthAdjust="spacingAndGlyphs" >0.8</text>
<line x1="90.5" y1="666.15" x2="97" y2="666.15" stroke="#555555" stroke-width="1.3"/>
<text x="80.88" y="672.32" font-size="17.26" text-anchor="end" textLength="26.77" lengthAdjust="spacingAndGlyphs" >0.4</text>
<line x1="90.5" y1="714.3" x2="97" y2="714.3" stroke="#555555" stroke-width="1.3"/>
<text x="81.25" y="720.43" font-size="17.26" text-anchor="end" textLength="11.93" lengthAdjust="spacingAndGlyphs" >0</text>
<line x1="90.5" y1="762.45" x2="97" y2="762.45" stroke="#555555" stroke-width="1.3"/>
<text x="80.68" y="769.22" font-size="17.26" text-anchor="end" textLength="36.33" lengthAdjust="spacingAndGlyphs" >−0.4</text>
<line x1="90.5" y1="810.6" x2="97" y2="810.6" stroke="#555555" stroke-width="1.3"/>
<text x="81.05" y="817.05" font-size="16.87" text-anchor="end" textLength="36.6" lengthAdjust="spacingAndGlyphs" >−0.8</text>
<line x1="97" y1="823.5" x2="299.3" y2="823.5" stroke="#555555" stroke-width="1.3"/>
<line x1="134.8" y1="823.5" x2="134.8" y2="829.5" stroke="#555555" stroke-width="1.3"/>
<line x1="198.5" y1="823.5" x2="198.5" y2="829.5" stroke="#555555" stroke-width="1.3"/>
<line x1="261.5" y1="823.5" x2="261.5" y2="829.5" stroke="#555555" stroke-width="1.3"/>
<rect x="106.8" y="690.5" width="18.5" height="23.8" fill="#747474" />
<rect x="126" y="691.5" width="18.6" height="22.8" fill="#56b4e6" />
<rect x="145.3" y="710.8" width="18.2" height="3.5" fill="#d9641a" />
<rect x="169.8" y="706.2" width="19.2" height="8.1" fill="#747474" />
<rect x="189" y="704.1" width="19.3" height="10.2" fill="#56b4e6" />
<rect x="208.3" y="714.3" width="18.5" height="2.4" fill="#d9641a" />
<rect x="232.8" y="701.7" width="18.5" height="12.6" fill="#747474" />
<rect x="252" y="706.2" width="18.6" height="8.1" fill="#56b4e6" />
<rect x="271.3" y="714.3" width="18.5" height="4.2" fill="#d9641a" />
<rect x="114.8" y="611.84" width="2.4" height="1.92" fill="#111"/>
<rect x="114.8" y="663.64" width="2.4" height="1.92" fill="#111"/>
<rect x="114.8" y="680.04" width="2.4" height="1.92" fill="#111"/>
<rect x="114.8" y="690.54" width="2.4" height="1.92" fill="#111"/>
<rect x="114.8" y="697.54" width="2.4" height="1.92" fill="#111"/>
<rect x="114.8" y="708.04" width="2.4" height="1.92" fill="#111"/>
<rect x="114.8" y="720.34" width="2.4" height="1.92" fill="#111"/>
<rect x="114.8" y="729.04" width="2.4" height="1.92" fill="#111"/>
<line x1="116" y1="684.5" x2="116" y2="696.8" stroke="#111" stroke-width="1.3"/>
<line x1="111" y1="684.5" x2="121" y2="684.5" stroke="#111" stroke-width="1.3"/>
<line x1="111" y1="696.8" x2="121" y2="696.8" stroke="#111" stroke-width="1.3"/>
<rect x="134.1" y="638.04" width="2.4" height="1.92" fill="#111"/>
<rect x="134.1" y="660.84" width="2.4" height="1.92" fill="#111"/>
<rect x="134.1" y="673.74" width="2.4" height="1.92" fill="#111"/>
<rect x="134.1" y="685.34" width="2.4" height="1.92" fill="#111"/>
<rect x="134.1" y="704.54" width="2.4" height="1.92" fill="#111"/>
<rect x="134.1" y="722.04" width="2.4" height="1.92" fill="#111"/>
<rect x="134.1" y="736.04" width="2.4" height="1.92" fill="#111"/>
<line x1="135.3" y1="685.2" x2="135.3" y2="695" stroke="#111" stroke-width="1.3"/>
<line x1="130.3" y1="685.2" x2="140.3" y2="685.2" stroke="#111" stroke-width="1.3"/>
<line x1="130.3" y1="695" x2="140.3" y2="695" stroke="#111" stroke-width="1.3"/>
<rect x="153.2" y="644.34" width="2.4" height="1.92" fill="#111"/>
<rect x="153.2" y="653.84" width="2.4" height="1.92" fill="#111"/>
<rect x="153.2" y="662.54" width="2.4" height="1.92" fill="#111"/>
<rect x="153.2" y="687.04" width="2.4" height="1.92" fill="#111"/>
<rect x="153.2" y="697.54" width="2.4" height="1.92" fill="#111"/>
<rect x="153.2" y="704.54" width="2.4" height="1.92" fill="#111"/>
<rect x="153.2" y="722.04" width="2.4" height="1.92" fill="#111"/>
<rect x="153.2" y="733.24" width="2.4" height="1.92" fill="#111"/>
<rect x="153.2" y="750.04" width="2.4" height="1.92" fill="#111"/>
<rect x="153.2" y="761.64" width="2.4" height="1.92" fill="#111"/>
<rect x="153.2" y="800.84" width="2.4" height="1.92" fill="#111"/>
<line x1="154.4" y1="703.8" x2="154.4" y2="721.3" stroke="#111" stroke-width="1.3"/>
<line x1="149.4" y1="703.8" x2="159.4" y2="703.8" stroke="#111" stroke-width="1.3"/>
<line x1="149.4" y1="721.3" x2="159.4" y2="721.3" stroke="#111" stroke-width="1.3"/>
<rect x="178.2" y="670.24" width="2.4" height="1.92" fill="#111"/>
<rect x="178.2" y="687.04" width="2.4" height="1.92" fill="#111"/>
<rect x="178.2" y="696.84" width="2.4" height="1.92" fill="#111"/>
<rect x="178.2" y="711.54" width="2.4" height="1.92" fill="#111"/>
<rect x="178.2" y="722.04" width="2.4" height="1.92" fill="#111"/>
<rect x="178.2" y="732.54" width="2.4" height="1.92" fill="#111"/>
<line x1="179.4" y1="702" x2="179.4" y2="710.8" stroke="#111" stroke-width="1.3"/>
<line x1="174.4" y1="702" x2="184.4" y2="702" stroke="#111" stroke-width="1.3"/>
<line x1="174.4" y1="710.8" x2="184.4" y2="710.8" stroke="#111" stroke-width="1.3"/>
<rect x="197.4" y="677.24" width="2.4" height="1.92" fill="#111"/>
<rect x="197.4" y="686.34" width="2.4" height="1.92" fill="#111"/>
<rect x="197.4" y="706.34" width="2.4" height="1.92" fill="#111"/>
<rect x="197.4" y="718.54" width="2.4" height="1.92" fill="#111"/>
<rect x="197.4" y="734.34" width="2.4" height="1.92" fill="#111"/>
<rect x="197.4" y="774.54" width="2.4" height="1.92" fill="#111"/>
<line x1="198.6" y1="698.5" x2="198.6" y2="709" stroke="#111" stroke-width="1.3"/>
<line x1="193.6" y1="698.5" x2="203.6" y2="698.5" stroke="#111" stroke-width="1.3"/>
<line x1="193.6" y1="709" x2="203.6" y2="709" stroke="#111" stroke-width="1.3"/>
<rect x="216.3" y="666.04" width="2.4" height="1.92" fill="#111"/>
<rect x="216.3" y="678.34" width="2.4" height="1.92" fill="#111"/>
<rect x="216.3" y="701.04" width="2.4" height="1.92" fill="#111"/>
<rect x="216.3" y="720.34" width="2.4" height="1.92" fill="#111"/>
<rect x="216.3" y="729.04" width="2.4" height="1.92" fill="#111"/>
<rect x="216.3" y="743.04" width="2.4" height="1.92" fill="#111"/>
<rect x="216.3" y="762.34" width="2.4" height="1.92" fill="#111"/>
<rect x="216.3" y="769.34" width="2.4" height="1.92" fill="#111"/>
<line x1="217.5" y1="710.8" x2="217.5" y2="723" stroke="#111" stroke-width="1.3"/>
<line x1="212.5" y1="710.8" x2="222.5" y2="710.8" stroke="#111" stroke-width="1.3"/>
<line x1="212.5" y1="723" x2="222.5" y2="723" stroke="#111" stroke-width="1.3"/>
<rect x="240.8" y="618.84" width="2.4" height="1.92" fill="#111"/>
<rect x="240.8" y="658.34" width="2.4" height="1.92" fill="#111"/>
<rect x="240.8" y="678.34" width="2.4" height="1.92" fill="#111"/>
<rect x="240.8" y="690.54" width="2.4" height="1.92" fill="#111"/>
<rect x="240.8" y="711.54" width="2.4" height="1.92" fill="#111"/>
<rect x="240.8" y="722.04" width="2.4" height="1.92" fill="#111"/>
<rect x="240.8" y="733.24" width="2.4" height="1.92" fill="#111"/>
<line x1="242" y1="695.7" x2="242" y2="707.3" stroke="#111" stroke-width="1.3"/>
<line x1="237" y1="695.7" x2="247" y2="695.7" stroke="#111" stroke-width="1.3"/>
<line x1="237" y1="707.3" x2="247" y2="707.3" stroke="#111" stroke-width="1.3"/>
<rect x="260.1" y="645.74" width="2.4" height="1.92" fill="#111"/>
<rect x="260.1" y="686.34" width="2.4" height="1.92" fill="#111"/>
<rect x="260.1" y="691.24" width="2.4" height="1.92" fill="#111"/>
<rect x="260.1" y="708.04" width="2.4" height="1.92" fill="#111"/>
<rect x="260.1" y="719.24" width="2.4" height="1.92" fill="#111"/>
<rect x="260.1" y="729.04" width="2.4" height="1.92" fill="#111"/>
<rect x="260.1" y="743.04" width="2.4" height="1.92" fill="#111"/>
<line x1="261.3" y1="702" x2="261.3" y2="710.8" stroke="#111" stroke-width="1.3"/>
<line x1="256.3" y1="702" x2="266.3" y2="702" stroke="#111" stroke-width="1.3"/>
<line x1="256.3" y1="710.8" x2="266.3" y2="710.8" stroke="#111" stroke-width="1.3"/>
<rect x="279.3" y="664.34" width="2.4" height="1.92" fill="#111"/>
<rect x="279.3" y="681.84" width="2.4" height="1.92" fill="#111"/>
<rect x="279.3" y="699.34" width="2.4" height="1.92" fill="#111"/>
<rect x="279.3" y="708.04" width="2.4" height="1.92" fill="#111"/>
<rect x="279.3" y="725.54" width="2.4" height="1.92" fill="#111"/>
<rect x="279.3" y="736.04" width="2.4" height="1.92" fill="#111"/>
<rect x="279.3" y="745.84" width="2.4" height="1.92" fill="#111"/>
<line x1="280.5" y1="713.2" x2="280.5" y2="723.7" stroke="#111" stroke-width="1.3"/>
<line x1="275.5" y1="713.2" x2="285.5" y2="713.2" stroke="#111" stroke-width="1.3"/>
<line x1="275.5" y1="723.7" x2="285.5" y2="723.7" stroke="#111" stroke-width="1.3"/>
<text x="134.68" y="854.18" font-size="18" text-anchor="middle" textLength="29.2" lengthAdjust="spacingAndGlyphs" >Ant</text>
<text x="198.88" y="854.18" font-size="17.18" text-anchor="middle" textLength="32.39" lengthAdjust="spacingAndGlyphs" >Mid</text>
<text x="260.55" y="854.18" font-size="18" text-anchor="middle" textLength="36.56" lengthAdjust="spacingAndGlyphs" >Post</text>
<text x="198.25" y="891.33" font-size="20" text-anchor="middle" textLength="183.68" lengthAdjust="spacingAndGlyphs" >Left hippocampus</text>
<text x="24.75" y="690.63" font-size="21.84" text-anchor="middle" textLength="240.49" lengthAdjust="spacingAndGlyphs" transform="rotate(-90 24.75 690.63)" >BOLD (% signal change)</text>
<rect x="309.2" y="665.3" width="17.8" height="17.8" fill="#747474" />
<circle cx="318.1" cy="674.2" r="3.7" fill="none" stroke="#222" stroke-width="1.1"/>
<rect x="309.2" y="685" width="17.8" height="17.8" fill="#56b4e6" />
<circle cx="318.1" cy="693.9" r="3.7" fill="none" stroke="#222" stroke-width="1.1"/>
<rect x="309.2" y="705" width="17.8" height="17.8" fill="#d9641a" />
<circle cx="318.1" cy="713.9" r="3.7" fill="none" stroke="#222" stroke-width="1.1"/>
<text x="339.7" y="682.12" font-size="22" textLength="57.64" lengthAdjust="spacingAndGlyphs" >Sham</text>
<text x="340.45" y="701.97" font-size="22" textLength="45.41" lengthAdjust="spacingAndGlyphs" >TI 1:1</text>
<text x="340.57" y="721.52" font-size="21.5" textLength="50.32" lengthAdjust="spacingAndGlyphs" >TI 1:3</text>
<text x="450.07" y="548.32" font-size="29" font-weight="bold" textLength="22.71" lengthAdjust="spacingAndGlyphs" fill="#000" >d</text>
<defs>
<filter id="hb" x="-20%" y="-20%" width="140%" height="140%"><feTurbulence type="fractalNoise" baseFrequency="0.35" numOctaves="2" seed="3" result="n"/><feDisplacementMap in="SourceGraphic" in2="n" scale="3.2" xChannelSelector="R" yChannelSelector="G" result="d"/><feGaussianBlur in="d" stdDeviation="0.8"/></filter>
<filter id="hb2" x="-30%" y="-30%" width="160%" height="160%"><feTurbulence type="fractalNoise" baseFrequency="0.5" numOctaves="2" seed="5" result="n"/><feDisplacementMap in="SourceGraphic" in2="n" scale="3" xChannelSelector="R" yChannelSelector="G" result="d"/><feGaussianBlur in="d" stdDeviation="0.5"/></filter>
<radialGradient id="hg" cx="0.45" cy="0.75" r="0.6"><stop offset="0" stop-color="#d6d6d6"/><stop offset="0.55" stop-color="#c2c2c2"/><stop offset="1" stop-color="#adadad"/></radialGradient>
<clipPath id="hcp"><path d="M48,0.5 C49.87,0.43 51.62,1.32 54,2.8 C56.38,4.28 59.67,7.12 62.3,9.4 C64.93,11.68 68.05,13.4 69.8,16.5 C71.55,19.6 72.43,24.33 72.8,28 C73.17,31.67 72.97,35.07 72,38.5 C71.03,41.93 69.25,45.42 67,48.6 C64.75,51.78 62.33,54.7 58.5,57.6 C54.67,60.5 49.25,63.68 44,66 C38.75,68.32 32,70.67 27,71.5 C22,72.33 17.5,72.58 14,71 C10.5,69.42 8.17,65.5 6,62 C3.83,58.5 1.87,53.83 1,50 C0.13,46.17 -0.67,41.4 0.8,39 C2.27,36.6 5.8,36.28 9.8,35.6 C13.8,34.92 20.43,35.48 24.8,34.9 C29.17,34.32 33.38,33.82 36,32.1 C38.62,30.38 39.5,27.58 40.5,24.6 C41.5,21.62 41.62,17.77 42,14.2 C42.38,10.63 41.8,5.48 42.8,3.2 C43.8,0.92 46.13,0.57 48,0.5Z"/></clipPath>
<g id="hip" filter="url(#hb)"><path d="M48,0.5 C49.87,0.43 51.62,1.32 54,2.8 C56.38,4.28 59.67,7.12 62.3,9.4 C64.93,11.68 68.05,13.4 69.8,16.5 C71.55,19.6 72.43,24.33 72.8,28 C73.17,31.67 72.97,35.07 72,38.5 C71.03,41.93 69.25,45.42 67,48.6 C64.75,51.78 62.33,54.7 58.5,57.6 C54.67,60.5 49.25,63.68 44,66 C38.75,68.32 32,70.67 27,71.5 C22,72.33 17.5,72.58 14,71 C10.5,69.42 8.17,65.5 6,62 C3.83,58.5 1.87,53.83 1,50 C0.13,46.17 -0.67,41.4 0.8,39 C2.27,36.6 5.8,36.28 9.8,35.6 C13.8,34.92 20.43,35.48 24.8,34.9 C29.17,34.32 33.38,33.82 36,32.1 C38.62,30.38 39.5,27.58 40.5,24.6 C41.5,21.62 41.62,17.77 42,14.2 C42.38,10.63 41.8,5.48 42.8,3.2 C43.8,0.92 46.13,0.57 48,0.5Z" fill="url(#hg)"/><g clip-path="url(#hcp)"><line x1="-10" y1="30" x2="20" y2="80" stroke="#cacaca" stroke-width="2.4" opacity="0.45"/><line x1="-3" y1="30" x2="27" y2="80" stroke="#cacaca" stroke-width="2.4" opacity="0.45"/><line x1="4" y1="30" x2="34" y2="80" stroke="#cacaca" stroke-width="2.4" opacity="0.45"/><line x1="11" y1="30" x2="41" y2="80" stroke="#cacaca" stroke-width="2.4" opacity="0.45"/><line x1="18" y1="30" x2="48" y2="80" stroke="#cacaca" stroke-width="2.4" opacity="0.45"/><line x1="25" y1="30" x2="55" y2="80" stroke="#cacaca" stroke-width="2.4" opacity="0.45"/><line x1="32" y1="30" x2="62" y2="80" stroke="#cacaca" stroke-width="2.4" opacity="0.45"/><line x1="39" y1="30" x2="69" y2="80" stroke="#cacaca" stroke-width="2.4" opacity="0.45"/><line x1="46" y1="30" x2="76" y2="80" stroke="#cacaca" stroke-width="2.4" opacity="0.45"/><line x1="53" y1="30" x2="83" y2="80" stroke="#cacaca" stroke-width="2.4" opacity="0.45"/><line x1="60" y1="30" x2="90" y2="80" stroke="#cacaca" stroke-width="2.4" opacity="0.45"/><line x1="67" y1="30" x2="97" y2="80" stroke="#cacaca" stroke-width="2.4" opacity="0.45"/></g><path d="M46,8 C50,14 56,22 62,28" stroke="#999" stroke-width="0.7" fill="none"/></g>
<radialGradient id="hgf" cx="0.45" cy="0.75" r="0.6"><stop offset="0" stop-color="#dedede"/><stop offset="0.55" stop-color="#cbcbcb"/><stop offset="1" stop-color="#b8b8b8"/></radialGradient>
<g id="hipf" filter="url(#hb)"><path d="M48,0.5 C49.87,0.43 51.62,1.32 54,2.8 C56.38,4.28 59.67,7.12 62.3,9.4 C64.93,11.68 68.05,13.4 69.8,16.5 C71.55,19.6 72.43,24.33 72.8,28 C73.17,31.67 72.97,35.07 72,38.5 C71.03,41.93 69.25,45.42 67,48.6 C64.75,51.78 62.33,54.7 58.5,57.6 C54.67,60.5 49.25,63.68 44,66 C38.75,68.32 32,70.67 27,71.5 C22,72.33 17.5,72.58 14,71 C10.5,69.42 8.17,65.5 6,62 C3.83,58.5 1.87,53.83 1,50 C0.13,46.17 -0.67,41.4 0.8,39 C2.27,36.6 5.8,36.28 9.8,35.6 C13.8,34.92 20.43,35.48 24.8,34.9 C29.17,34.32 33.38,33.82 36,32.1 C38.62,30.38 39.5,27.58 40.5,24.6 C41.5,21.62 41.62,17.77 42,14.2 C42.38,10.63 41.8,5.48 42.8,3.2 C43.8,0.92 46.13,0.57 48,0.5Z" fill="url(#hgf)"/><g clip-path="url(#hcp)"><line x1="-10" y1="30" x2="20" y2="80" stroke="#cacaca" stroke-width="2.4" opacity="0.45"/><line x1="-3" y1="30" x2="27" y2="80" stroke="#cacaca" stroke-width="2.4" opacity="0.45"/><line x1="4" y1="30" x2="34" y2="80" stroke="#cacaca" stroke-width="2.4" opacity="0.45"/><line x1="11" y1="30" x2="41" y2="80" stroke="#cacaca" stroke-width="2.4" opacity="0.45"/><line x1="18" y1="30" x2="48" y2="80" stroke="#cacaca" stroke-width="2.4" opacity="0.45"/><line x1="25" y1="30" x2="55" y2="80" stroke="#cacaca" stroke-width="2.4" opacity="0.45"/><line x1="32" y1="30" x2="62" y2="80" stroke="#cacaca" stroke-width="2.4" opacity="0.45"/><line x1="39" y1="30" x2="69" y2="80" stroke="#cacaca" stroke-width="2.4" opacity="0.45"/><line x1="46" y1="30" x2="76" y2="80" stroke="#cacaca" stroke-width="2.4" opacity="0.45"/><line x1="53" y1="30" x2="83" y2="80" stroke="#cacaca" stroke-width="2.4" opacity="0.45"/><line x1="60" y1="30" x2="90" y2="80" stroke="#cacaca" stroke-width="2.4" opacity="0.45"/><line x1="67" y1="30" x2="97" y2="80" stroke="#cacaca" stroke-width="2.4" opacity="0.45"/></g><path d="M46,8 C50,14 56,22 62,28" stroke="#999" stroke-width="0.7" fill="none"/></g>
</defs>
<use href="#hip" transform="translate(454 561) scale(1.0 1.03)"/>
<use href="#hip" transform="translate(454 665) scale(1.0 1.03)"/>
<use href="#hip" transform="translate(453 768) scale(1.0 1.03)"/>
<g filter="url(#hb2)">
<path d="M511,683 C512.33,681.42 515.83,680.33 518,680.5 C520.17,680.67 522.75,681.75 524,684 C525.25,686.25 526,691.33 525.5,694 C525,696.67 523.08,699.17 521,700 C518.92,700.83 514.83,700.67 513,699 C511.17,697.33 510.33,692.67 510,690 C509.67,687.33 509.67,684.58 511,683Z" fill="#e95040" opacity="0.9" filter="url(#bl05)"/>
<path d="M515,686 L522,697" stroke="#f4a040" stroke-width="2" opacity="0.8"/>
<path d="M508,702 C508.83,700.25 511.83,699 513,699.5 C514.17,700 515.17,702.92 515,705 C514.83,707.08 513.17,711.17 512,712 C510.83,712.83 508.67,711.67 508,710 C507.33,708.33 507.17,703.75 508,702Z" fill="#e84a3a" opacity="0.85" filter="url(#bl05)"/>
<path d="M458,709 C459.83,706.83 464.33,706.67 468,707 C471.67,707.33 477,708.5 480,711 C483,713.5 485.33,718.33 486,722 C486.67,725.67 486.33,730.83 484,733 C481.67,735.17 475.67,735.5 472,735 C468.33,734.5 464.5,732.5 462,730 C459.5,727.5 457.67,723.5 457,720 C456.33,716.5 456.17,711.17 458,709Z" fill="#ee7058" opacity="0.85" filter="url(#bl05)"/>
<path d="M461,724 L468,734 M465,720 L473,733" stroke="#f39a40" stroke-width="2.2" opacity="0.85"/>
<ellipse cx="497" cy="730.5" rx="3.5" ry="2" fill="#ee7060" opacity="0.8" filter="url(#bl05)"/>
<path d="M500,772 C501.25,770.75 503.67,769.5 506,770.5 C508.33,771.5 511.67,775.42 514,778 C516.33,780.58 519.33,783.67 520,786 C520.67,788.33 519.67,791 518,792 C516.33,793 512.83,793.17 510,792 C507.17,790.83 502.92,787.33 501,785 C499.08,782.67 498.67,780.17 498.5,778 C498.33,775.83 498.75,773.25 500,772Z" fill="#f29530" opacity="0.95" filter="url(#bl05)"/>
<path d="M503,774 L516,790" stroke="#e85a30" stroke-width="1.5" opacity="0.6"/>
<path d="M457,816 C459.33,813.8 464.83,812.97 470,812.8 C475.17,812.63 483.5,813.13 488,815 C492.5,816.87 496,820.83 497,824 C498,827.17 497.17,831.83 494,834 C490.83,836.17 483.33,837 478,837 C472.67,837 465.67,835.83 462,834 C458.33,832.17 456.83,829 456,826 C455.17,823 454.67,818.2 457,816Z" fill="#f5aa98" opacity="0.9" filter="url(#bl05)"/>
<path d="M459,818 L470,835 M464,816 L476,836" stroke="#f0783a" stroke-width="2.4" opacity="0.85"/>
</g>
<text x="531.62" y="627.33" font-size="21.81" textLength="124.86" lengthAdjust="spacingAndGlyphs" >Sham &gt; TI 1:1</text>
<text x="531.55" y="733.25" font-size="22.61" textLength="130.33" lengthAdjust="spacingAndGlyphs" >Sham &gt; TI 1:3</text>
<text x="532.05" y="833.52" font-size="21.72" textLength="118.8" lengthAdjust="spacingAndGlyphs" >TI 1:1 &gt; TI 1:3</text>
<text x="731" y="547.85" font-size="29" font-weight="bold" textLength="20.18" lengthAdjust="spacingAndGlyphs" fill="#000" >e</text>
<line x1="822.1" y1="603" x2="822.1" y2="822.8" stroke="#555555" stroke-width="1.3"/>
<line x1="815.6" y1="657.7" x2="822.1" y2="657.7" stroke="#555555" stroke-width="1.3"/>
<text x="806.57" y="664.48" font-size="18.51" text-anchor="end" textLength="27.01" lengthAdjust="spacingAndGlyphs" >0.8</text>
<line x1="815.6" y1="701.9" x2="822.1" y2="701.9" stroke="#555555" stroke-width="1.3"/>
<text x="806.32" y="708.62" font-size="18.51" text-anchor="end" textLength="26.77" lengthAdjust="spacingAndGlyphs" >0.4</text>
<line x1="815.6" y1="746.1" x2="822.1" y2="746.1" stroke="#555555" stroke-width="1.3"/>
<text x="806.77" y="752.72" font-size="18.51" text-anchor="end" textLength="12.49" lengthAdjust="spacingAndGlyphs" >0</text>
<line x1="815.6" y1="790.3" x2="822.1" y2="790.3" stroke="#555555" stroke-width="1.3"/>
<text x="806.4" y="797.33" font-size="18.51" text-anchor="end" textLength="36.18" lengthAdjust="spacingAndGlyphs" >−0.4</text>
<line x1="822.1" y1="822.8" x2="999" y2="822.8" stroke="#555555" stroke-width="1.3"/>
<line x1="855.4" y1="822.8" x2="855.4" y2="828.8" stroke="#555555" stroke-width="1.3"/>
<line x1="910.8" y1="822.8" x2="910.8" y2="828.8" stroke="#555555" stroke-width="1.3"/>
<line x1="966.5" y1="822.8" x2="966.5" y2="828.8" stroke="#555555" stroke-width="1.3"/>
<rect x="831" y="725.8" width="24.5" height="20.3" fill="#5fba7d" />
<rect x="855.5" y="739.5" width="24.5" height="6.6" fill="#9a9a9a" />
<rect x="885.6" y="733.2" width="25.2" height="12.9" fill="#5fba7d" />
<rect x="910.8" y="733.9" width="24.8" height="12.2" fill="#9a9a9a" />
<rect x="941.2" y="741.6" width="25.6" height="4.5" fill="#5fba7d" />
<rect x="966.8" y="746.1" width="23.8" height="6.3" fill="#9a9a9a" />
<rect x="842" y="655.54" width="2.4" height="1.92" fill="#111"/>
<rect x="842" y="691.24" width="2.4" height="1.92" fill="#111"/>
<rect x="842" y="701.04" width="2.4" height="1.92" fill="#111"/>
<rect x="842" y="710.84" width="2.4" height="1.92" fill="#111"/>
<rect x="842" y="721.34" width="2.4" height="1.92" fill="#111"/>
<rect x="842" y="730.84" width="2.4" height="1.92" fill="#111"/>
<rect x="842" y="746.54" width="2.4" height="1.92" fill="#111"/>
<rect x="842" y="767.54" width="2.4" height="1.92" fill="#111"/>
<rect x="842" y="781.54" width="2.4" height="1.92" fill="#111"/>
<line x1="843.2" y1="720.2" x2="843.2" y2="732.8" stroke="#111" stroke-width="1.3"/>
<line x1="838.2" y1="720.2" x2="848.2" y2="720.2" stroke="#111" stroke-width="1.3"/>
<line x1="838.2" y1="732.8" x2="848.2" y2="732.8" stroke="#111" stroke-width="1.3"/>
<rect x="866.6" y="704.54" width="2.4" height="1.92" fill="#111"/>
<rect x="866.6" y="710.84" width="2.4" height="1.92" fill="#111"/>
<rect x="866.6" y="728.34" width="2.4" height="1.92" fill="#111"/>
<rect x="866.6" y="736.74" width="2.4" height="1.92" fill="#111"/>
<rect x="866.6" y="751.84" width="2.4" height="1.92" fill="#111"/>
<rect x="866.6" y="761.24" width="2.4" height="1.92" fill="#111"/>
<rect x="866.6" y="785.04" width="2.4" height="1.92" fill="#111"/>
<line x1="867.8" y1="734.9" x2="867.8" y2="743" stroke="#111" stroke-width="1.3"/>
<line x1="862.8" y1="734.9" x2="872.8" y2="734.9" stroke="#111" stroke-width="1.3"/>
<line x1="862.8" y1="743" x2="872.8" y2="743" stroke="#111" stroke-width="1.3"/>
<rect x="897" y="676.54" width="2.4" height="1.92" fill="#111"/>
<rect x="897" y="699.34" width="2.4" height="1.92" fill="#111"/>
<rect x="897" y="707.34" width="2.4" height="1.92" fill="#111"/>
<rect x="897" y="717.84" width="2.4" height="1.92" fill="#111"/>
<rect x="897" y="727.34" width="2.4" height="1.92" fill="#111"/>
<rect x="897" y="738.84" width="2.4" height="1.92" fill="#111"/>
<rect x="897" y="746.54" width="2.4" height="1.92" fill="#111"/>
<rect x="897" y="769.34" width="2.4" height="1.92" fill="#111"/>
<rect x="897" y="784.04" width="2.4" height="1.92" fill="#111"/>
<rect x="897" y="797.34" width="2.4" height="1.92" fill="#111"/>
<line x1="898.2" y1="727.6" x2="898.2" y2="739.8" stroke="#111" stroke-width="1.3"/>
<line x1="893.2" y1="727.6" x2="903.2" y2="727.6" stroke="#111" stroke-width="1.3"/>
<line x1="893.2" y1="739.8" x2="903.2" y2="739.8" stroke="#111" stroke-width="1.3"/>
<rect x="922" y="692.34" width="2.4" height="1.92" fill="#111"/>
<rect x="922" y="707.34" width="2.4" height="1.92" fill="#111"/>
<rect x="922" y="714.34" width="2.4" height="1.92" fill="#111"/>
<rect x="922" y="721.34" width="2.4" height="1.92" fill="#111"/>
<rect x="922" y="739.54" width="2.4" height="1.92" fill="#111"/>
<rect x="922" y="752.84" width="2.4" height="1.92" fill="#111"/>
<rect x="922" y="758.84" width="2.4" height="1.92" fill="#111"/>
<rect x="922" y="764.04" width="2.4" height="1.92" fill="#111"/>
<line x1="923.2" y1="729.3" x2="923.2" y2="738.8" stroke="#111" stroke-width="1.3"/>
<line x1="918.2" y1="729.3" x2="928.2" y2="729.3" stroke="#111" stroke-width="1.3"/>
<line x1="918.2" y1="738.8" x2="928.2" y2="738.8" stroke="#111" stroke-width="1.3"/>
<rect x="952.8" y="693.04" width="2.4" height="1.92" fill="#111"/>
<rect x="952.8" y="708.04" width="2.4" height="1.92" fill="#111"/>
<rect x="952.8" y="720.34" width="2.4" height="1.92" fill="#111"/>
<rect x="952.8" y="729.04" width="2.4" height="1.92" fill="#111"/>
<rect x="952.8" y="739.54" width="2.4" height="1.92" fill="#111"/>
<rect x="952.8" y="750.04" width="2.4" height="1.92" fill="#111"/>
<rect x="952.8" y="760.54" width="2.4" height="1.92" fill="#111"/>
<rect x="952.8" y="772.84" width="2.4" height="1.92" fill="#111"/>
<rect x="952.8" y="804.34" width="2.4" height="1.92" fill="#111"/>
<line x1="954" y1="736" x2="954" y2="748.2" stroke="#111" stroke-width="1.3"/>
<line x1="949" y1="736" x2="959" y2="736" stroke="#111" stroke-width="1.3"/>
<line x1="949" y1="748.2" x2="959" y2="748.2" stroke="#111" stroke-width="1.3"/>
<rect x="977.5" y="680.04" width="2.4" height="1.92" fill="#111"/>
<rect x="977.5" y="701.04" width="2.4" height="1.92" fill="#111"/>
<rect x="977.5" y="711.54" width="2.4" height="1.92" fill="#111"/>
<rect x="977.5" y="734.34" width="2.4" height="1.92" fill="#111"/>
<rect x="977.5" y="748.34" width="2.4" height="1.92" fill="#111"/>
<rect x="977.5" y="758.84" width="2.4" height="1.92" fill="#111"/>
<rect x="977.5" y="767.54" width="2.4" height="1.92" fill="#111"/>
<rect x="977.5" y="778.04" width="2.4" height="1.92" fill="#111"/>
<rect x="977.5" y="787.84" width="2.4" height="1.92" fill="#111"/>
<rect x="977.5" y="799.04" width="2.4" height="1.92" fill="#111"/>
<rect x="977.5" y="807.84" width="2.4" height="1.92" fill="#111"/>
<line x1="978.7" y1="745" x2="978.7" y2="760.1" stroke="#111" stroke-width="1.3"/>
<line x1="973.7" y1="745" x2="983.7" y2="745" stroke="#111" stroke-width="1.3"/>
<line x1="973.7" y1="760.1" x2="983.7" y2="760.1" stroke="#111" stroke-width="1.3"/>
<line x1="841.8" y1="639" x2="866" y2="639" stroke="#777" stroke-width="1.4"/>
<path d="M853,629.5L853,624.9M853,629.5L857.37,628.08M853,629.5L855.7,633.22M853,629.5L850.3,633.22M853,629.5L848.63,628.08" stroke="#111" stroke-width="1.7" stroke-linecap="round" fill="none"/>
<line x1="955.2" y1="639" x2="980.8" y2="639" stroke="#777" stroke-width="1.4"/>
<path d="M966,629.5L966,624.9M966,629.5L970.37,628.08M966,629.5L968.7,633.22M966,629.5L963.3,633.22M966,629.5L961.63,628.08" stroke="#111" stroke-width="1.7" stroke-linecap="round" fill="none"/>
<text x="864.7" y="845.8" font-size="21.89" text-anchor="end" transform="rotate(-45 864.7 845.8)" >Sham</text>
<text x="922.35" y="847.75" font-size="21.89" text-anchor="end" textLength="46.24" lengthAdjust="spacingAndGlyphs" transform="rotate(-45 922.35 847.75)" >TI 1:1</text>
<text x="978.75" y="848.5" font-size="21.89" text-anchor="end" textLength="50.9" lengthAdjust="spacingAndGlyphs" transform="rotate(-45 978.75 848.5)" >TI 1:3</text>
<text x="910.75" y="916.92" font-size="20.72" text-anchor="middle" textLength="182.77" lengthAdjust="spacingAndGlyphs" >Left hippocampus</text>
<text x="749.65" y="712.35" font-size="21.84" text-anchor="middle" textLength="239.84" lengthAdjust="spacingAndGlyphs" transform="rotate(-90 749.65 712.35)" >BOLD (% signal change)</text>
<rect x="1005.8" y="698.3" width="17.5" height="17.5" fill="#5fba7d" />
<circle cx="1014.55" cy="707.05" r="3.7" fill="none" stroke="#222" stroke-width="1.1"/>
<rect x="1005.8" y="718" width="17" height="17" fill="#9a9a9a" />
<circle cx="1014.3" cy="726.5" r="3.7" fill="none" stroke="#222" stroke-width="1.1"/>
<text x="1035" y="714" font-size="21" textLength="76.51" lengthAdjust="spacingAndGlyphs" >Correct</text>
<text x="1034.75" y="733.87" font-size="21" textLength="92.08" lengthAdjust="spacingAndGlyphs" >Incorrect</text>
<text x="-0.65" y="979.5" font-size="29.55" font-weight="bold" textLength="12.24" lengthAdjust="spacingAndGlyphs" fill="#000" >f</text>
<use href="#hipf" transform="translate(21 984) scale(1.0 1.1)"/>
<use href="#hipf" transform="translate(19 1097) scale(1.0 1.1)"/>
<use href="#hipf" transform="translate(21 1215) scale(1.0 1.09)"/>
<g filter="url(#hb2)">
<path d="M26,1038 C26.5,1036.17 29.33,1034.33 31,1034 C32.67,1033.67 34.33,1036 36,1036 C37.67,1036 39.33,1034.83 41,1034 C42.67,1033.17 44.5,1031.67 46,1031 C47.5,1030.33 49.83,1029.17 50,1030 C50.17,1030.83 48,1034.33 47,1036 C46,1037.67 44.17,1037.83 44,1040 C43.83,1042.17 46.17,1046.5 46,1049 C45.83,1051.5 44.33,1054.5 43,1055 C41.67,1055.5 39.33,1053.5 38,1052 C36.67,1050.5 36.67,1047.17 35,1046 C33.33,1044.83 29.5,1046.33 28,1045 C26.5,1043.67 25.5,1039.83 26,1038Z" fill="#ef6a38" opacity="0.85" filter="url(#bl05)"/>
<path d="M37,1038 L42,1048" stroke="#f59a50" stroke-width="1.6" opacity="0.8"/>
<path d="M23,1263 C23.67,1260.83 27,1260 29,1260 C31,1260 33.75,1261.17 35,1263 C36.25,1264.83 37,1268.83 36.5,1271 C36,1273.17 33.92,1275.67 32,1276 C30.08,1276.33 26.5,1275.17 25,1273 C23.5,1270.83 22.33,1265.17 23,1263Z" fill="#f07040" opacity="0.8" filter="url(#bl05)"/>
</g>
<text x="191" y="1033.05" font-size="20.02" text-anchor="middle" textLength="57.75" lengthAdjust="spacingAndGlyphs" >Sham</text>
<text x="190.62" y="1059.9" font-size="21" text-anchor="middle" textLength="189.34" lengthAdjust="spacingAndGlyphs" >Correct &gt; Incorrect</text>
<text x="190.75" y="1142.75" font-size="21.58" text-anchor="middle" textLength="45.96" lengthAdjust="spacingAndGlyphs" >TI 1:1</text>
<text x="190.62" y="1169.75" font-size="21" text-anchor="middle" textLength="189.34" lengthAdjust="spacingAndGlyphs" >Correct &gt; Incorrect</text>
<text x="190.63" y="1257.25" font-size="21" text-anchor="middle" textLength="50.26" lengthAdjust="spacingAndGlyphs" >TI 1:3</text>
<text x="190.62" y="1284.75" font-size="21" text-anchor="middle" textLength="189.34" lengthAdjust="spacingAndGlyphs" >Correct &gt; Incorrect</text>
<text x="334.02" y="979.1" font-size="29" font-weight="bold" textLength="23.4" lengthAdjust="spacingAndGlyphs" fill="#000" >g</text>
<rect x="421" y="988.3" width="131.6" height="30.5" fill="#d9d9d9" />
<text x="486.87" y="1010.3" font-size="21.54" text-anchor="middle" textLength="76.95" lengthAdjust="spacingAndGlyphs" >Encode</text>
<rect x="560.3" y="988.3" width="132" height="30.5" fill="#d9d9d9" />
<text x="626.23" y="1010.05" font-size="21.54" text-anchor="middle" textLength="62.85" lengthAdjust="spacingAndGlyphs" >Recall</text>
<line x1="421" y1="1018.8" x2="421" y2="1221.4" stroke="#555555" stroke-width="1.3"/>
<line x1="414.5" y1="1069.1" x2="421" y2="1069.1" stroke="#555555" stroke-width="1.3"/>
<text x="404.43" y="1075.67" font-size="18" text-anchor="end" textLength="26.85" lengthAdjust="spacingAndGlyphs" >0.8</text>
<line x1="414.5" y1="1110.1" x2="421" y2="1110.1" stroke="#555555" stroke-width="1.3"/>
<text x="404.18" y="1116.57" font-size="18" text-anchor="end" textLength="26.35" lengthAdjust="spacingAndGlyphs" >0.4</text>
<line x1="414.5" y1="1151.1" x2="421" y2="1151.1" stroke="#555555" stroke-width="1.3"/>
<text x="404.5" y="1157.73" font-size="18" text-anchor="end" textLength="12.61" lengthAdjust="spacingAndGlyphs" >0</text>
<line x1="414.5" y1="1192.1" x2="421" y2="1192.1" stroke="#555555" stroke-width="1.3"/>
<text x="404.18" y="1198.57" font-size="18" text-anchor="end" textLength="36.33" lengthAdjust="spacingAndGlyphs" >−0.4</text>
<line x1="421" y1="1221.4" x2="552.6" y2="1221.4" stroke="#555555" stroke-width="1.3"/>
<line x1="445.6" y1="1221.4" x2="445.6" y2="1227.4" stroke="#555555" stroke-width="1.3"/>
<line x1="487" y1="1221.4" x2="487" y2="1227.4" stroke="#555555" stroke-width="1.3"/>
<line x1="528.2" y1="1221.4" x2="528.2" y2="1227.4" stroke="#555555" stroke-width="1.3"/>
<line x1="560.3" y1="1221.4" x2="692.3" y2="1221.4" stroke="#555555" stroke-width="1.3"/>
<line x1="585.1" y1="1221.4" x2="585.1" y2="1227.4" stroke="#555555" stroke-width="1.3"/>
<line x1="626.1" y1="1221.4" x2="626.1" y2="1227.4" stroke="#555555" stroke-width="1.3"/>
<line x1="667.4" y1="1221.4" x2="667.4" y2="1227.4" stroke="#555555" stroke-width="1.3"/>
<rect x="427.6" y="1135.6" width="36.4" height="15.5" fill="#747474" />
<rect x="468.5" y="1137.2" width="36.7" height="13.9" fill="#56b4e6" />
<rect x="509.8" y="1146" width="36.7" height="5.1" fill="#d9641a" />
<rect x="566.5" y="1148.6" width="37" height="2.5" fill="#747474" />
<rect x="608.3" y="1151.1" width="36.4" height="5.9" fill="#56b4e6" />
<line x1="649" y1="1151.1" x2="686" y2="1151.1" stroke="#f0c0a8" stroke-width="1.2"/>
<rect x="444.7" y="1109.02" width="2.2" height="1.76" fill="#111"/>
<rect x="444.7" y="1121.32" width="2.2" height="1.76" fill="#111"/>
<rect x="444.7" y="1127.82" width="2.2" height="1.76" fill="#111"/>
<rect x="444.7" y="1134.32" width="2.2" height="1.76" fill="#111"/>
<rect x="444.7" y="1144.12" width="2.2" height="1.76" fill="#111"/>
<rect x="444.7" y="1150.62" width="2.2" height="1.76" fill="#111"/>
<rect x="444.7" y="1162.62" width="2.2" height="1.76" fill="#111"/>
<rect x="444.7" y="1177.62" width="2.2" height="1.76" fill="#111"/>
<line x1="445.8" y1="1131.3" x2="445.8" y2="1139.1" stroke="#111" stroke-width="1.3"/>
<line x1="440.3" y1="1131.3" x2="451.3" y2="1131.3" stroke="#111" stroke-width="1.3"/>
<line x1="440.3" y1="1139.1" x2="451.3" y2="1139.1" stroke="#111" stroke-width="1.3"/>
<rect x="485.6" y="1083.32" width="2.2" height="1.76" fill="#111"/>
<rect x="485.6" y="1105.72" width="2.2" height="1.76" fill="#111"/>
<rect x="485.6" y="1124.62" width="2.2" height="1.76" fill="#111"/>
<rect x="485.6" y="1134.32" width="2.2" height="1.76" fill="#111"/>
<rect x="485.6" y="1144.12" width="2.2" height="1.76" fill="#111"/>
<rect x="485.6" y="1157.72" width="2.2" height="1.76" fill="#111"/>
<rect x="485.6" y="1192.82" width="2.2" height="1.76" fill="#111"/>
<line x1="486.7" y1="1131.3" x2="486.7" y2="1143.4" stroke="#111" stroke-width="1.3"/>
<line x1="481.2" y1="1131.3" x2="492.2" y2="1131.3" stroke="#111" stroke-width="1.3"/>
<line x1="481.2" y1="1143.4" x2="492.2" y2="1143.4" stroke="#111" stroke-width="1.3"/>
<rect x="526.9" y="1114.22" width="2.2" height="1.76" fill="#111"/>
<rect x="526.9" y="1119.12" width="2.2" height="1.76" fill="#111"/>
<rect x="526.9" y="1131.12" width="2.2" height="1.76" fill="#111"/>
<rect x="526.9" y="1144.12" width="2.2" height="1.76" fill="#111"/>
<rect x="526.9" y="1150.62" width="2.2" height="1.76" fill="#111"/>
<rect x="526.9" y="1158.72" width="2.2" height="1.76" fill="#111"/>
<rect x="526.9" y="1182.42" width="2.2" height="1.76" fill="#111"/>
<rect x="526.9" y="1199.32" width="2.2" height="1.76" fill="#111"/>
<line x1="528" y1="1141.7" x2="528" y2="1151.5" stroke="#111" stroke-width="1.3"/>
<line x1="522.5" y1="1141.7" x2="533.5" y2="1141.7" stroke="#111" stroke-width="1.3"/>
<line x1="522.5" y1="1151.5" x2="533.5" y2="1151.5" stroke="#111" stroke-width="1.3"/>
<rect x="584.1" y="1086.62" width="2.2" height="1.76" fill="#111"/>
<rect x="584.1" y="1126.52" width="2.2" height="1.76" fill="#111"/>
<rect x="584.1" y="1142.52" width="2.2" height="1.76" fill="#111"/>
<rect x="584.1" y="1149.02" width="2.2" height="1.76" fill="#111"/>
<rect x="584.1" y="1169.12" width="2.2" height="1.76" fill="#111"/>
<rect x="584.1" y="1188.92" width="2.2" height="1.76" fill="#111"/>
<rect x="584.1" y="1203.62" width="2.2" height="1.76" fill="#111"/>
<line x1="585.2" y1="1143.4" x2="585.2" y2="1155.4" stroke="#111" stroke-width="1.3"/>
<line x1="579.7" y1="1143.4" x2="590.7" y2="1143.4" stroke="#111" stroke-width="1.3"/>
<line x1="579.7" y1="1155.4" x2="590.7" y2="1155.4" stroke="#111" stroke-width="1.3"/>
<rect x="625" y="1118.12" width="2.2" height="1.76" fill="#111"/>
<rect x="625" y="1134.32" width="2.2" height="1.76" fill="#111"/>
<rect x="625" y="1138.22" width="2.2" height="1.76" fill="#111"/>
<rect x="625" y="1147.32" width="2.2" height="1.76" fill="#111"/>
<rect x="625" y="1155.52" width="2.2" height="1.76" fill="#111"/>
<rect x="625" y="1162.02" width="2.2" height="1.76" fill="#111"/>
<rect x="625" y="1181.52" width="2.2" height="1.76" fill="#111"/>
<rect x="625" y="1188.02" width="2.2" height="1.76" fill="#111"/>
<rect x="625" y="1202.62" width="2.2" height="1.76" fill="#111"/>
<line x1="626.1" y1="1152.1" x2="626.1" y2="1161.9" stroke="#111" stroke-width="1.3"/>
<line x1="620.6" y1="1152.1" x2="631.6" y2="1152.1" stroke="#111" stroke-width="1.3"/>
<line x1="620.6" y1="1161.9" x2="631.6" y2="1161.9" stroke="#111" stroke-width="1.3"/>
<rect x="666" y="1114.22" width="2.2" height="1.76" fill="#111"/>
<rect x="666" y="1127.82" width="2.2" height="1.76" fill="#111"/>
<rect x="666" y="1140.82" width="2.2" height="1.76" fill="#111"/>
<rect x="666" y="1146.72" width="2.2" height="1.76" fill="#111"/>
<rect x="666" y="1153.82" width="2.2" height="1.76" fill="#111"/>
<rect x="666" y="1162.02" width="2.2" height="1.76" fill="#111"/>
<rect x="666" y="1171.12" width="2.2" height="1.76" fill="#111"/>
<rect x="666" y="1179.82" width="2.2" height="1.76" fill="#111"/>
<rect x="666" y="1196.72" width="2.2" height="1.76" fill="#111"/>
<line x1="667.1" y1="1145.6" x2="667.1" y2="1155.7" stroke="#111" stroke-width="1.3"/>
<line x1="661.6" y1="1145.6" x2="672.6" y2="1145.6" stroke="#111" stroke-width="1.3"/>
<line x1="661.6" y1="1155.7" x2="672.6" y2="1155.7" stroke="#111" stroke-width="1.3"/>
<text x="455.6" y="1243.4" font-size="19.34" text-anchor="end" transform="rotate(-45 455.6 1243.4)" >Sham</text>
<text x="498.75" y="1245.15" font-size="19.34" text-anchor="end" textLength="39.96" lengthAdjust="spacingAndGlyphs" transform="rotate(-45 498.75 1245.15)" >TI 1:1</text>
<text x="540.6" y="1245.4" font-size="19.34" text-anchor="end" textLength="45.15" lengthAdjust="spacingAndGlyphs" transform="rotate(-45 540.6 1245.4)" >TI 1:3</text>
<text x="594.6" y="1243.4" font-size="19.24" text-anchor="end" transform="rotate(-45 594.6 1243.4)" >Sham</text>
<text x="637.6" y="1245.15" font-size="19.24" text-anchor="end" textLength="39.32" lengthAdjust="spacingAndGlyphs" transform="rotate(-45 637.6 1245.15)" >TI 1:1</text>
<text x="680.05" y="1245.4" font-size="19.24" text-anchor="end" textLength="45.25" lengthAdjust="spacingAndGlyphs" transform="rotate(-45 680.05 1245.4)" >TI 1:3</text>
<text x="556.48" y="1314.23" font-size="23.08" text-anchor="middle" textLength="196.64" lengthAdjust="spacingAndGlyphs" >Right hippocampus</text>
<text x="351.6" y="1120.55" font-size="21.84" text-anchor="middle" textLength="240.24" lengthAdjust="spacingAndGlyphs" transform="rotate(-90 351.6 1120.55)" >BOLD (% signal change)</text>
<text x="729.5" y="981.15" font-size="29" font-weight="bold" textLength="22.78" lengthAdjust="spacingAndGlyphs" fill="#000" >h</text>
<rect x="822.4" y="1012.1" width="136.6" height="29.7" fill="#d9d9d9" />
<text x="890.25" y="1033" font-size="21" text-anchor="middle" textLength="76.88" lengthAdjust="spacingAndGlyphs" >Encode</text>
<rect x="966.4" y="1012.1" width="136.6" height="29.7" fill="#d9d9d9" />
<text x="1034.88" y="1033" font-size="21" text-anchor="middle" textLength="62.85" lengthAdjust="spacingAndGlyphs" >Recall</text>
<line x1="822.4" y1="1041.8" x2="822.4" y2="1221.2" stroke="#555555" stroke-width="1.3"/>
<line x1="815.9" y1="1080.7" x2="822.4" y2="1080.7" stroke="#555555" stroke-width="1.3"/>
<text x="806.23" y="1086.55" font-size="18.34" text-anchor="end" textLength="23.69" lengthAdjust="spacingAndGlyphs" >1.4</text>
<line x1="815.9" y1="1111.1" x2="822.4" y2="1111.1" stroke="#555555" stroke-width="1.3"/>
<text x="806.58" y="1116.98" font-size="17.6" text-anchor="end" textLength="27.59" lengthAdjust="spacingAndGlyphs" >0.8</text>
<line x1="815.9" y1="1141.6" x2="822.4" y2="1141.6" stroke="#555555" stroke-width="1.3"/>
<text x="806.7" y="1147.77" font-size="18" text-anchor="end" textLength="27.68" lengthAdjust="spacingAndGlyphs" >0.2</text>
<line x1="815.9" y1="1172.4" x2="822.4" y2="1172.4" stroke="#555555" stroke-width="1.3"/>
<text x="806.2" y="1178.03" font-size="17.04" text-anchor="end" textLength="37.22" lengthAdjust="spacingAndGlyphs" >−0.4</text>
<line x1="815.9" y1="1203.4" x2="822.4" y2="1203.4" stroke="#555555" stroke-width="1.3"/>
<text x="806.53" y="1208.73" font-size="17.6" text-anchor="end" textLength="33.28" lengthAdjust="spacingAndGlyphs" >−1.0</text>
<line x1="822.4" y1="1221.2" x2="959" y2="1221.2" stroke="#555555" stroke-width="1.3"/>
<line x1="848" y1="1221.2" x2="848" y2="1227.2" stroke="#555555" stroke-width="1.3"/>
<line x1="890.6" y1="1221.2" x2="890.6" y2="1227.2" stroke="#555555" stroke-width="1.3"/>
<line x1="933.2" y1="1221.2" x2="933.2" y2="1227.2" stroke="#555555" stroke-width="1.3"/>
<line x1="966.4" y1="1221.2" x2="1103" y2="1221.2" stroke="#555555" stroke-width="1.3"/>
<line x1="992.1" y1="1221.2" x2="992.1" y2="1227.2" stroke="#555555" stroke-width="1.3"/>
<line x1="1034.7" y1="1221.2" x2="1034.7" y2="1227.2" stroke="#555555" stroke-width="1.3"/>
<line x1="1077.4" y1="1221.2" x2="1077.4" y2="1227.2" stroke="#555555" stroke-width="1.3"/>
<rect x="828.5" y="1151.8" width="13" height="1.8" fill="#747474" />
<rect x="841.5" y="1150.9" width="13" height="1.8" fill="#56b4e6" />
<rect x="854.5" y="1150.9" width="13" height="1.8" fill="#d9641a" />
<rect x="871.1" y="1146" width="13" height="5.8" fill="#747474" />
<rect x="884.1" y="1148.8" width="13" height="3" fill="#56b4e6" />
<rect x="897.1" y="1149.6" width="13" height="2.2" fill="#d9641a" />
<rect x="913.7" y="1136" width="13" height="15.8" fill="#747474" />
<rect x="926.7" y="1138" width="13" height="13.8" fill="#56b4e6" />
<rect x="939.7" y="1140.8" width="13" height="11" fill="#d9641a" />
<rect x="972.6" y="1151.8" width="13" height="7.4" fill="#747474" />
<rect x="985.6" y="1151.8" width="13" height="10.2" fill="#56b4e6" />
<rect x="998.6" y="1151.8" width="13" height="9.4" fill="#d9641a" />
<rect x="1015.2" y="1150.9" width="13" height="1.8" fill="#747474" />
<rect x="1028.2" y="1151.8" width="13" height="3.4" fill="#56b4e6" />
<rect x="1041.2" y="1150.9" width="13" height="1.8" fill="#d9641a" />
<rect x="1057.9" y="1139.2" width="13" height="12.6" fill="#747474" />
<rect x="1070.9" y="1148" width="13" height="3.8" fill="#56b4e6" />
<rect x="1083.9" y="1143.6" width="13" height="8.2" fill="#d9641a" />
<rect x="833.7" y="1134.48" width="1.8" height="1.44" fill="#111"/>
<rect x="833.7" y="1147.28" width="1.8" height="1.44" fill="#111"/>
<rect x="833.7" y="1151.28" width="1.8" height="1.44" fill="#111"/>
<rect x="833.7" y="1153.28" width="1.8" height="1.44" fill="#111"/>
<rect x="833.7" y="1157.28" width="1.8" height="1.44" fill="#111"/>
<rect x="833.7" y="1168.48" width="1.8" height="1.44" fill="#111"/>
<rect x="847.1" y="1139.28" width="1.8" height="1.44" fill="#111"/>
<rect x="847.1" y="1145.28" width="1.8" height="1.44" fill="#111"/>
<rect x="847.1" y="1149.28" width="1.8" height="1.44" fill="#111"/>
<rect x="847.1" y="1155.28" width="1.8" height="1.44" fill="#111"/>
<rect x="847.1" y="1165.28" width="1.8" height="1.44" fill="#111"/>
<rect x="860.1" y="1129.28" width="1.8" height="1.44" fill="#111"/>
<rect x="860.1" y="1134.08" width="1.8" height="1.44" fill="#111"/>
<rect x="860.1" y="1141.28" width="1.8" height="1.44" fill="#111"/>
<rect x="860.1" y="1148.48" width="1.8" height="1.44" fill="#111"/>
<rect x="860.1" y="1154.08" width="1.8" height="1.44" fill="#111"/>
<rect x="860.1" y="1161.28" width="1.8" height="1.44" fill="#111"/>
<rect x="860.1" y="1173.28" width="1.8" height="1.44" fill="#111"/>
<rect x="876.7" y="1131.28" width="1.8" height="1.44" fill="#111"/>
<rect x="876.7" y="1135.28" width="1.8" height="1.44" fill="#111"/>
<rect x="876.7" y="1143.28" width="1.8" height="1.44" fill="#111"/>
<rect x="876.7" y="1146.08" width="1.8" height="1.44" fill="#111"/>
<rect x="876.7" y="1148.48" width="1.8" height="1.44" fill="#111"/>
<rect x="876.7" y="1153.28" width="1.8" height="1.44" fill="#111"/>
<rect x="876.7" y="1178.08" width="1.8" height="1.44" fill="#111"/>
<rect x="889.9" y="1133.28" width="1.8" height="1.44" fill="#111"/>
<rect x="889.9" y="1141.28" width="1.8" height="1.44" fill="#111"/>
<rect x="889.9" y="1148.48" width="1.8" height="1.44" fill="#111"/>
<rect x="889.9" y="1153.28" width="1.8" height="1.44" fill="#111"/>
<rect x="889.9" y="1163.28" width="1.8" height="1.44" fill="#111"/>
<rect x="889.9" y="1168.48" width="1.8" height="1.44" fill="#111"/>
<rect x="889.9" y="1178.08" width="1.8" height="1.44" fill="#111"/>
<rect x="903.1" y="1116.48" width="1.8" height="1.44" fill="#111"/>
<rect x="903.1" y="1122.08" width="1.8" height="1.44" fill="#111"/>
<rect x="903.1" y="1133.28" width="1.8" height="1.44" fill="#111"/>
<rect x="903.1" y="1140.48" width="1.8" height="1.44" fill="#111"/>
<rect x="903.1" y="1149.28" width="1.8" height="1.44" fill="#111"/>
<rect x="903.1" y="1157.28" width="1.8" height="1.44" fill="#111"/>
<rect x="903.1" y="1167.28" width="1.8" height="1.44" fill="#111"/>
<rect x="903.1" y="1176.48" width="1.8" height="1.44" fill="#111"/>
<rect x="903.1" y="1194.08" width="1.8" height="1.44" fill="#111"/>
<rect x="919.3" y="1055.28" width="1.8" height="1.44" fill="#111"/>
<rect x="919.3" y="1108.08" width="1.8" height="1.44" fill="#111"/>
<rect x="919.3" y="1125.28" width="1.8" height="1.44" fill="#111"/>
<rect x="919.3" y="1132.48" width="1.8" height="1.44" fill="#111"/>
<rect x="919.3" y="1137.28" width="1.8" height="1.44" fill="#111"/>
<rect x="919.3" y="1141.28" width="1.8" height="1.44" fill="#111"/>
<rect x="919.3" y="1153.28" width="1.8" height="1.44" fill="#111"/>
<rect x="932.3" y="1063.28" width="1.8" height="1.44" fill="#111"/>
<rect x="932.3" y="1113.28" width="1.8" height="1.44" fill="#111"/>
<rect x="932.3" y="1119.28" width="1.8" height="1.44" fill="#111"/>
<rect x="932.3" y="1129.28" width="1.8" height="1.44" fill="#111"/>
<rect x="932.3" y="1137.28" width="1.8" height="1.44" fill="#111"/>
<rect x="932.3" y="1145.28" width="1.8" height="1.44" fill="#111"/>
<rect x="932.3" y="1155.28" width="1.8" height="1.44" fill="#111"/>
<rect x="945.3" y="1079.28" width="1.8" height="1.44" fill="#111"/>
<rect x="945.3" y="1112.48" width="1.8" height="1.44" fill="#111"/>
<rect x="945.3" y="1121.28" width="1.8" height="1.44" fill="#111"/>
<rect x="945.3" y="1128.48" width="1.8" height="1.44" fill="#111"/>
<rect x="945.3" y="1134.08" width="1.8" height="1.44" fill="#111"/>
<rect x="945.3" y="1140.48" width="1.8" height="1.44" fill="#111"/>
<rect x="945.3" y="1146.08" width="1.8" height="1.44" fill="#111"/>
<rect x="945.3" y="1154.08" width="1.8" height="1.44" fill="#111"/>
<rect x="945.3" y="1173.28" width="1.8" height="1.44" fill="#111"/>
<rect x="978.1" y="1131.28" width="1.8" height="1.44" fill="#111"/>
<rect x="978.1" y="1147.28" width="1.8" height="1.44" fill="#111"/>
<rect x="978.1" y="1154.08" width="1.8" height="1.44" fill="#111"/>
<rect x="978.1" y="1157.28" width="1.8" height="1.44" fill="#111"/>
<rect x="978.1" y="1161.28" width="1.8" height="1.44" fill="#111"/>
<rect x="978.1" y="1173.28" width="1.8" height="1.44" fill="#111"/>
<rect x="978.1" y="1184.48" width="1.8" height="1.44" fill="#111"/>
<rect x="991.1" y="1140.48" width="1.8" height="1.44" fill="#111"/>
<rect x="991.1" y="1149.28" width="1.8" height="1.44" fill="#111"/>
<rect x="991.1" y="1155.28" width="1.8" height="1.44" fill="#111"/>
<rect x="991.1" y="1161.28" width="1.8" height="1.44" fill="#111"/>
<rect x="991.1" y="1168.48" width="1.8" height="1.44" fill="#111"/>
<rect x="991.1" y="1175.28" width="1.8" height="1.44" fill="#111"/>
<rect x="991.1" y="1182.48" width="1.8" height="1.44" fill="#111"/>
<rect x="1004.1" y="1136.48" width="1.8" height="1.44" fill="#111"/>
<rect x="1004.1" y="1151.28" width="1.8" height="1.44" fill="#111"/>
<rect x="1004.1" y="1156.48" width="1.8" height="1.44" fill="#111"/>
<rect x="1004.1" y="1161.28" width="1.8" height="1.44" fill="#111"/>
<rect x="1004.1" y="1165.28" width="1.8" height="1.44" fill="#111"/>
<rect x="1004.1" y="1173.28" width="1.8" height="1.44" fill="#111"/>
<rect x="1004.1" y="1185.28" width="1.8" height="1.44" fill="#111"/>
<rect x="1020.9" y="1130.08" width="1.8" height="1.44" fill="#111"/>
<rect x="1020.9" y="1135.28" width="1.8" height="1.44" fill="#111"/>
<rect x="1020.9" y="1141.28" width="1.8" height="1.44" fill="#111"/>
<rect x="1020.9" y="1149.28" width="1.8" height="1.44" fill="#111"/>
<rect x="1020.9" y="1154.08" width="1.8" height="1.44" fill="#111"/>
<rect x="1020.9" y="1167.28" width="1.8" height="1.44" fill="#111"/>
<rect x="1020.9" y="1181.28" width="1.8" height="1.44" fill="#111"/>
<rect x="1033.9" y="1128.48" width="1.8" height="1.44" fill="#111"/>
<rect x="1033.9" y="1137.28" width="1.8" height="1.44" fill="#111"/>
<rect x="1033.9" y="1145.28" width="1.8" height="1.44" fill="#111"/>
<rect x="1033.9" y="1153.28" width="1.8" height="1.44" fill="#111"/>
<rect x="1033.9" y="1159.28" width="1.8" height="1.44" fill="#111"/>
<rect x="1033.9" y="1165.28" width="1.8" height="1.44" fill="#111"/>
<rect x="1033.9" y="1173.28" width="1.8" height="1.44" fill="#111"/>
<rect x="1033.9" y="1182.08" width="1.8" height="1.44" fill="#111"/>
<rect x="1046.9" y="1113.28" width="1.8" height="1.44" fill="#111"/>
<rect x="1046.9" y="1125.28" width="1.8" height="1.44" fill="#111"/>
<rect x="1046.9" y="1135.28" width="1.8" height="1.44" fill="#111"/>
<rect x="1046.9" y="1143.28" width="1.8" height="1.44" fill="#111"/>
<rect x="1046.9" y="1149.28" width="1.8" height="1.44" fill="#111"/>
<rect x="1046.9" y="1157.28" width="1.8" height="1.44" fill="#111"/>
<rect x="1046.9" y="1167.28" width="1.8" height="1.44" fill="#111"/>
<rect x="1046.9" y="1175.28" width="1.8" height="1.44" fill="#111"/>
<rect x="1046.9" y="1181.28" width="1.8" height="1.44" fill="#111"/>
<rect x="1063.5" y="1079.28" width="1.8" height="1.44" fill="#111"/>
<rect x="1063.5" y="1102.08" width="1.8" height="1.44" fill="#111"/>
<rect x="1063.5" y="1117.28" width="1.8" height="1.44" fill="#111"/>
<rect x="1063.5" y="1128.48" width="1.8" height="1.44" fill="#111"/>
<rect x="1063.5" y="1134.08" width="1.8" height="1.44" fill="#111"/>
<rect x="1063.5" y="1141.28" width="1.8" height="1.44" fill="#111"/>
<rect x="1063.5" y="1149.28" width="1.8" height="1.44" fill="#111"/>
<rect x="1063.5" y="1161.28" width="1.8" height="1.44" fill="#111"/>
<rect x="1063.5" y="1171.28" width="1.8" height="1.44" fill="#111"/>
<rect x="1076.3" y="1091.28" width="1.8" height="1.44" fill="#111"/>
<rect x="1076.3" y="1106.08" width="1.8" height="1.44" fill="#111"/>
<rect x="1076.3" y="1117.28" width="1.8" height="1.44" fill="#111"/>
<rect x="1076.3" y="1132.48" width="1.8" height="1.44" fill="#111"/>
<rect x="1076.3" y="1141.28" width="1.8" height="1.44" fill="#111"/>
<rect x="1076.3" y="1149.28" width="1.8" height="1.44" fill="#111"/>
<rect x="1076.3" y="1157.28" width="1.8" height="1.44" fill="#111"/>
<rect x="1076.3" y="1171.28" width="1.8" height="1.44" fill="#111"/>
<rect x="1076.3" y="1191.28" width="1.8" height="1.44" fill="#111"/>
<rect x="1089.3" y="1084.48" width="1.8" height="1.44" fill="#111"/>
<rect x="1089.3" y="1102.08" width="1.8" height="1.44" fill="#111"/>
<rect x="1089.3" y="1117.28" width="1.8" height="1.44" fill="#111"/>
<rect x="1089.3" y="1127.28" width="1.8" height="1.44" fill="#111"/>
<rect x="1089.3" y="1134.08" width="1.8" height="1.44" fill="#111"/>
<rect x="1089.3" y="1140.48" width="1.8" height="1.44" fill="#111"/>
<rect x="1089.3" y="1149.28" width="1.8" height="1.44" fill="#111"/>
<rect x="1089.3" y="1157.28" width="1.8" height="1.44" fill="#111"/>
<rect x="1089.3" y="1167.28" width="1.8" height="1.44" fill="#111"/>
<rect x="1089.3" y="1177.28" width="1.8" height="1.44" fill="#111"/>
<line x1="834.6" y1="1149" x2="834.6" y2="1154" stroke="#111" stroke-width="1.1"/>
<line x1="830.6" y1="1149" x2="838.6" y2="1149" stroke="#111" stroke-width="1.1"/>
<line x1="830.6" y1="1154" x2="838.6" y2="1154" stroke="#111" stroke-width="1.1"/>
<line x1="848" y1="1149" x2="848" y2="1155" stroke="#111" stroke-width="1.1"/>
<line x1="844" y1="1149" x2="852" y2="1149" stroke="#111" stroke-width="1.1"/>
<line x1="844" y1="1155" x2="852" y2="1155" stroke="#111" stroke-width="1.1"/>
<line x1="861" y1="1147" x2="861" y2="1157" stroke="#111" stroke-width="1.1"/>
<line x1="857" y1="1147" x2="865" y2="1147" stroke="#111" stroke-width="1.1"/>
<line x1="857" y1="1157" x2="865" y2="1157" stroke="#111" stroke-width="1.1"/>
<line x1="877.6" y1="1143" x2="877.6" y2="1150" stroke="#111" stroke-width="1.1"/>
<line x1="873.6" y1="1143" x2="881.6" y2="1143" stroke="#111" stroke-width="1.1"/>
<line x1="873.6" y1="1150" x2="881.6" y2="1150" stroke="#111" stroke-width="1.1"/>
<line x1="890.8" y1="1145" x2="890.8" y2="1152" stroke="#111" stroke-width="1.1"/>
<line x1="886.8" y1="1145" x2="894.8" y2="1145" stroke="#111" stroke-width="1.1"/>
<line x1="886.8" y1="1152" x2="894.8" y2="1152" stroke="#111" stroke-width="1.1"/>
<line x1="904" y1="1145" x2="904" y2="1155" stroke="#111" stroke-width="1.1"/>
<line x1="900" y1="1145" x2="908" y2="1145" stroke="#111" stroke-width="1.1"/>
<line x1="900" y1="1155" x2="908" y2="1155" stroke="#111" stroke-width="1.1"/>
<line x1="920.2" y1="1131" x2="920.2" y2="1142" stroke="#111" stroke-width="1.1"/>
<line x1="916.2" y1="1131" x2="924.2" y2="1131" stroke="#111" stroke-width="1.1"/>
<line x1="916.2" y1="1142" x2="924.2" y2="1142" stroke="#111" stroke-width="1.1"/>
<line x1="933.2" y1="1132" x2="933.2" y2="1145" stroke="#111" stroke-width="1.1"/>
<line x1="929.2" y1="1132" x2="937.2" y2="1132" stroke="#111" stroke-width="1.1"/>
<line x1="929.2" y1="1145" x2="937.2" y2="1145" stroke="#111" stroke-width="1.1"/>
<line x1="946.2" y1="1134" x2="946.2" y2="1147" stroke="#111" stroke-width="1.1"/>
<line x1="942.2" y1="1134" x2="950.2" y2="1134" stroke="#111" stroke-width="1.1"/>
<line x1="942.2" y1="1147" x2="950.2" y2="1147" stroke="#111" stroke-width="1.1"/>
<line x1="979" y1="1155" x2="979" y2="1162" stroke="#111" stroke-width="1.1"/>
<line x1="975" y1="1155" x2="983" y2="1155" stroke="#111" stroke-width="1.1"/>
<line x1="975" y1="1162" x2="983" y2="1162" stroke="#111" stroke-width="1.1"/>
<line x1="992" y1="1158" x2="992" y2="1165" stroke="#111" stroke-width="1.1"/>
<line x1="988" y1="1158" x2="996" y2="1158" stroke="#111" stroke-width="1.1"/>
<line x1="988" y1="1165" x2="996" y2="1165" stroke="#111" stroke-width="1.1"/>
<line x1="1005" y1="1156" x2="1005" y2="1165" stroke="#111" stroke-width="1.1"/>
<line x1="1001" y1="1156" x2="1009" y2="1156" stroke="#111" stroke-width="1.1"/>
<line x1="1001" y1="1165" x2="1009" y2="1165" stroke="#111" stroke-width="1.1"/>
<line x1="1021.8" y1="1148" x2="1021.8" y2="1156" stroke="#111" stroke-width="1.1"/>
<line x1="1017.8" y1="1148" x2="1025.8" y2="1148" stroke="#111" stroke-width="1.1"/>
<line x1="1017.8" y1="1156" x2="1025.8" y2="1156" stroke="#111" stroke-width="1.1"/>
<line x1="1034.8" y1="1151" x2="1034.8" y2="1158" stroke="#111" stroke-width="1.1"/>
<line x1="1030.8" y1="1151" x2="1038.8" y2="1151" stroke="#111" stroke-width="1.1"/>
<line x1="1030.8" y1="1158" x2="1038.8" y2="1158" stroke="#111" stroke-width="1.1"/>
<line x1="1047.8" y1="1146" x2="1047.8" y2="1158" stroke="#111" stroke-width="1.1"/>
<line x1="1043.8" y1="1146" x2="1051.8" y2="1146" stroke="#111" stroke-width="1.1"/>
<line x1="1043.8" y1="1158" x2="1051.8" y2="1158" stroke="#111" stroke-width="1.1"/>
<line x1="1064.4" y1="1133" x2="1064.4" y2="1146" stroke="#111" stroke-width="1.1"/>
<line x1="1060.4" y1="1133" x2="1068.4" y2="1133" stroke="#111" stroke-width="1.1"/>
<line x1="1060.4" y1="1146" x2="1068.4" y2="1146" stroke="#111" stroke-width="1.1"/>
<line x1="1077.2" y1="1141" x2="1077.2" y2="1154" stroke="#111" stroke-width="1.1"/>
<line x1="1073.2" y1="1141" x2="1081.2" y2="1141" stroke="#111" stroke-width="1.1"/>
<line x1="1073.2" y1="1154" x2="1081.2" y2="1154" stroke="#111" stroke-width="1.1"/>
<line x1="1090.2" y1="1138" x2="1090.2" y2="1149" stroke="#111" stroke-width="1.1"/>
<line x1="1086.2" y1="1138" x2="1094.2" y2="1138" stroke="#111" stroke-width="1.1"/>
<line x1="1086.2" y1="1149" x2="1094.2" y2="1149" stroke="#111" stroke-width="1.1"/>
<text x="857.95" y="1246.2" font-size="19.68" text-anchor="end" transform="rotate(-45 857.95 1246.2)" >Crtx Ant</text>
<text x="900.5" y="1246" font-size="19.4" text-anchor="end" transform="rotate(-45 900.5 1246)" >Crtx Mid</text>
<text x="943.2" y="1245.2" font-size="18.8" text-anchor="end" transform="rotate(-45 943.2 1245.2)" >Crtx Post</text>
<text x="1001.9" y="1246.2" font-size="19.64" text-anchor="end" transform="rotate(-45 1001.9 1246.2)" >Crtx Ant</text>
<text x="1044.65" y="1246" font-size="19.36" text-anchor="end" transform="rotate(-45 1044.65 1246)" >Crtx Mid</text>
<text x="1087" y="1245.2" font-size="18.72" text-anchor="end" transform="rotate(-45 1087 1245.2)" >Crtx Post</text>
<text x="962.05" y="1328.47" font-size="20" text-anchor="middle" textLength="67" lengthAdjust="spacingAndGlyphs" >Cortex</text>
<text x="749.65" y="1131.57" font-size="21.84" text-anchor="middle" textLength="240.39" lengthAdjust="spacingAndGlyphs" transform="rotate(-90 749.65 1131.57)" >BOLD (% signal change)</text>
<rect x="1116.1" y="1106.9" width="18" height="18" fill="#747474" />
<circle cx="1125.1" cy="1115.9" r="3.7" fill="none" stroke="#222" stroke-width="1.1"/>
<rect x="1116.1" y="1126.3" width="18.2" height="18.2" fill="#56b4e6" />
<circle cx="1125.2" cy="1135.4" r="3.7" fill="none" stroke="#222" stroke-width="1.1"/>
<rect x="1116.1" y="1146.1" width="17.8" height="17.8" fill="#d9641a" />
<circle cx="1125" cy="1155" r="3.7" fill="none" stroke="#222" stroke-width="1.1"/>
<text x="1142.42" y="1122.53" font-size="22.59" textLength="57.48" lengthAdjust="spacingAndGlyphs" >Sham</text>
<text x="1142.98" y="1142.32" font-size="22" textLength="44.79" lengthAdjust="spacingAndGlyphs" >TI 1:1</text>
<text x="1142.98" y="1162.07" font-size="21.61" textLength="50.45" lengthAdjust="spacingAndGlyphs" >TI 1:3</text>
</svg></body></html>
